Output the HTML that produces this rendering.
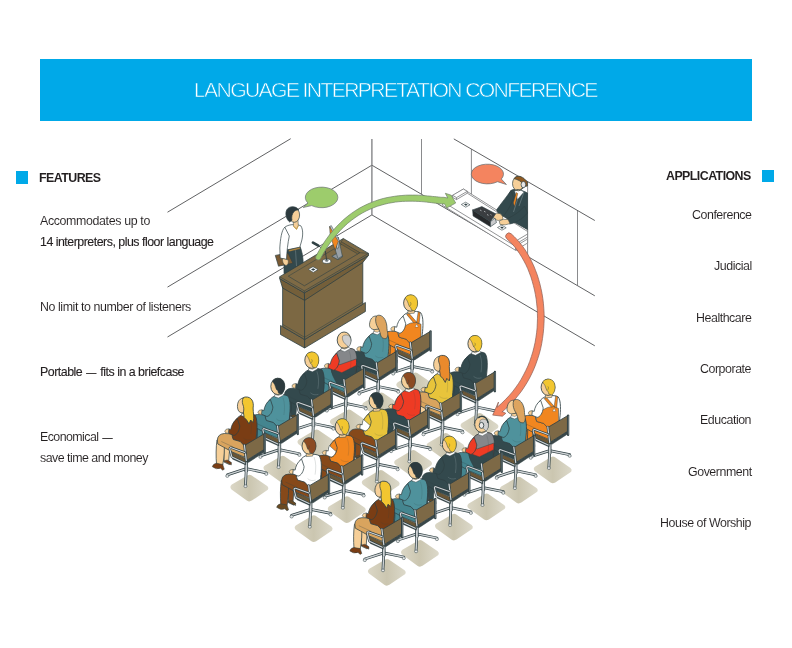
<!DOCTYPE html>
<html><head><meta charset="utf-8"><title>Language Interpretation Conference</title>
<style>
html,body{margin:0;padding:0;background:#fff;}
body{width:792px;height:648px;position:relative;overflow:hidden;font-family:"Liberation Sans",sans-serif;color:#231f20;}
.hdr{position:absolute;left:39.5px;top:58.9px;width:712px;height:61.9px;background:#00a9e8;}
.title{will-change:transform;position:absolute;left:194px;top:74.9px;font-size:21.1px;line-height:30px;color:#fff;white-space:nowrap;letter-spacing:-1.61px;-webkit-text-stroke:0.55px #00a9e8;}
.sq{position:absolute;width:12px;height:12px;background:#00a9e8;}
.h{will-change:transform;position:absolute;font-weight:bold;font-size:12.4px;line-height:14px;letter-spacing:-0.55px;white-space:nowrap;}
.t{will-change:transform;-webkit-text-stroke:0.05px #fff;position:absolute;font-size:12.4px;line-height:14px;letter-spacing:-0.45px;white-space:nowrap;}
.t.b{-webkit-text-stroke:0.12px #231f20;}
.t .d{font-size:10px;margin:0 1.1px;letter-spacing:0;-webkit-text-stroke:0.25px #231f20}
.r{right:40.5px;text-align:right;}
.l{left:39.5px;}
svg{position:absolute;left:0;top:0;}
</style></head><body>
<div class="hdr"></div>
<div class="title">LANGUAGE INTERPRETATION CONFERENCE</div>
<div class="sq" style="left:16px;top:171.4px;width:12.2px;height:12.4px"></div>
<div class="sq" style="left:761.8px;top:170.1px;width:12.2px;height:12.3px"></div>
<div class="h l" style="top:170.7px;left:38.8px">FEATURES</div>
<div class="h r" style="top:169.1px;right:41.2px">APPLICATIONS</div>
<div class="t l" style="top:213.7px;letter-spacing:-0.36px">Accommodates up to</div>
<div class="t l b" style="top:235.3px;letter-spacing:-0.5px">14 interpreters, plus floor language</div>
<div class="t l" style="top:300.1px;letter-spacing:-0.42px">No limit to number of listeners</div>
<div class="t l b" style="top:364.9px;letter-spacing:-0.49px">Portable <span class="d">—</span> fits in a briefcase</div>
<div class="t l" style="top:429.7px;letter-spacing:-0.56px">Economical <span class="d">—</span></div>
<div class="t l" style="top:451.3px;letter-spacing:-0.52px">save time and money</div>
<div class="t r" style="top:208.1px">Conference</div>
<div class="t r" style="top:259.4px">Judicial</div>
<div class="t r" style="top:310.7px">Healthcare</div>
<div class="t r" style="top:362px">Corporate</div>
<div class="t r" style="top:413.3px">Education</div>
<div class="t r" style="top:464.6px">Government</div>
<div class="t r" style="top:515.9px">House of Worship</div>
<svg id="art" width="792" height="648" viewBox="0 0 792 648">
<defs><linearGradient id="sh" x1="0" y1="0" x2="1" y2="0"><stop offset="0" stop-color="#dbd7c6"/><stop offset=".5" stop-color="#cbc6b0"/><stop offset="1" stop-color="#dcd9ca"/></linearGradient></defs>
<g fill="none" stroke="#4f5052" stroke-width=".9">
<path d="M167.5,212.2 L290.7,138.7"/>
<path d="M167.5,287.1 L371.9,165.2"/>
<path d="M167.5,337 L371.9,214.9"/>
<path d="M453.8,138.9 L594.8,220.5"/>
<path d="M371.9,165.2 L594.8,295.8"/>
<path d="M371.9,214.9 L594.8,345.8"/>
</g>
<g fill="none" stroke="#58595b" stroke-width=".7">
<path d="M371.9,139 V214.9" stroke="#7b7c7f" stroke-width="1.3"/>
<path d="M421.5,139 V194.2"/>
<path d="M471.4,149 V195"/>
<path d="M527.6,182 V256"/>
<path d="M577.5,210.4 V285.3"/>
</g>
<g stroke="#2f4043" stroke-width=".7" stroke-linejoin="round">
<path d="M286.8,249 L300,246.5 C302,251 303,257 303.3,264 L303.3,285.1 L284,273.6 L284,262Z" fill="#33494d"/>
<path d="M295.5,250 L296.5,266" fill="none" stroke="#8fa0a3" stroke-width=".4"/>
<path d="M284.5,227.5 C288,224.3 296,223.6 300.8,225.8 C303.3,229.5 303,236 301.6,241 L299.8,247.2 L287.3,249.8 L284.5,246 Z" fill="#fff"/>
<path d="M288.5,250 L300,247.3 L300.2,249 L288.8,251.8Z" fill="#b98a3e" stroke-width=".4"/>
<path d="M275.3,255.4 L288,253 L292.9,263.2 L278.5,266.2Z" fill="#7a5a33"/>
<path d="M284.8,227.2 C281.5,230 280.3,240 279.8,248 L280.2,258 L286.5,259.5 C286.8,252 287.8,243 289.3,236Z" fill="#fff"/>
<path d="M282.5,258.5 C282,261.5 283.5,265 286,265.5 C288.3,265 288.8,262 288,259.8Z" fill="#f6cf98" stroke-width=".5"/>
<path d="M293.5,220 L293.3,226 L296.5,229 L298.3,225.5 L298,220Z" fill="#f6cf98" stroke-width=".5"/>
<path d="M293.3,226 L296.5,229.5 L298.4,225.6" fill="none" stroke="#d9a53c" stroke-width=".9"/>
<ellipse cx="294.3" cy="215" rx="5.3" ry="7.3" fill="#f6cf98"/>
<path d="M298.8,210 C296.5,206 289.5,205.3 286.8,209.8 C284.8,213.5 286.3,219.5 289.6,222 L292,220.3 C291.2,217.5 292,213.5 294.3,211.3 C295.8,210.2 297.5,209.8 298.8,210Z" fill="#2c3a3e"/>
</g>
<g stroke="#2f4043" stroke-width=".8" stroke-linejoin="round">
<path d="M280.5,325.5 L304.6,339.5 L304.6,348 L280.5,334.5Z" fill="#7c6843"/>
<path d="M304.6,339.5 L365.4,302.5 L365.4,311.5 L304.6,348Z" fill="#7e6a45"/>
<path d="M282.6,286 L304.6,299 L304.6,339.5 L282.6,326.5Z" fill="#7c6843"/>
<path d="M304.6,299 L362.8,259 L362.8,304.3 L304.6,339.5Z" fill="#7e6a45"/>
<path d="M282.6,324.3 L304.6,337.3 L362.8,302" fill="none" stroke-width=".5"/>
<path d="M279.7,278.6 L304.4,292.8 L304.6,300.4 L282.6,288Z" fill="#745f3a"/>
<path d="M304.4,292.8 L368.5,255.4 L362.8,262.5 L304.6,300.4Z" fill="#745f3a"/>
<path d="M279.7,276.7 L343.3,238.5 L368.5,253.4 L368.5,255.4 L304.4,292.8 L279.7,278.6Z" fill="#7e6a45"/>
<path d="M279.7,276.7 L304.4,290.9 L368.5,253.4" fill="none" stroke-width=".6"/>
<path d="M304.4,290.9 L304.4,292.8" fill="none" stroke-width=".5"/>
</g>
<g stroke="#2f4043" stroke-width=".6" stroke-linejoin="round" fill="none">
<path d="M288.3,276.2 L304.4,285.8 L359.7,252.8"/>
<path d="M288.3,276.2 L343.3,243.4 L359.7,252.8" stroke-width=".5"/>
<path d="M341.4,241.7 L359.7,252.6 L357.5,253.9 L340.4,243.8Z" fill="#745f3a" stroke-width=".5"/>
<path d="M343.3,238.5 L341.4,241.7 M368.5,253.4 L359.7,252.7" stroke-width=".5"/>
</g>
<ellipse cx="326.7" cy="261.2" rx="4.2" ry="2.2" fill="#fff" stroke="#2f4043" stroke-width=".7"/>
<ellipse cx="326.7" cy="260.6" rx="1.6" ry=".9" fill="#9aa0a4" stroke="#2f4043" stroke-width=".4"/>
<path d="M326.7,260.5 L325.3,251" stroke="#2f4043" stroke-width=".9"/>
<path d="M313,242.6 L318.3,245.6" stroke="#2f4043" stroke-width="2.8" stroke-linecap="round"/>
<path d="M318.3,245.6 L325.3,251" stroke="#2f4043" stroke-width="1"/>
<path d="M331.8,256.3 L338.5,252.5 L343,256.3 L338,259.8Z" fill="#8e959a" stroke="#2f4043" stroke-width=".6" stroke-linejoin="round"/>
<path d="M335.3,250 L338.3,237 L342.3,256 L338,258.6Z" fill="#9aa1a6" stroke="#2f4043" stroke-width=".5" stroke-linejoin="round"/>
<path d="M329.6,226.5 L331.3,225.6 L339.2,240.3 L338.6,248 L337.4,249Z" fill="#c3c8cb" stroke="#2f4043" stroke-width=".5" stroke-linejoin="round"/>
<path d="M329.6,226.5 L338.3,241.3 L335.2,250.3 L330.2,236Z" fill="#f1861f" stroke="#2f4043" stroke-width=".5" stroke-linejoin="round"/>
<path d="M308.3,269.3 L313,266.7 L318,269.6 L313.3,272.4Z" fill="#fff" stroke="#2f4043" stroke-width=".6"/>
<path d="M311,269.4 L313.2,268.2 L315.4,269.5 L313.2,270.8Z" fill="#2f4043"/>
<g stroke="#77787b" stroke-width=".8" stroke-linejoin="round" fill="#fff">
<path d="M442.5,201.5 L442.5,205.3 L515.5,250.3 L527.6,243 L527.6,229.5 L463.4,189.1Z"/>
<path d="M442.5,201.5 L515.5,246.3 L527.6,239"/>
<path d="M515.5,246.3 L515.5,250.3"/>
<path d="M452.6,195.3 L463.4,189 L467.3,191.3 L467.3,193.2 L456.5,199.6 L452.6,197.3Z"/>
<path d="M456.5,197.6 L467.3,191.3 M456.5,197.6 L456.5,199.6 M452.6,195.3 L456.5,197.6"/>
<path d="M467.3,193.2 L527.6,231.5"/>
<path d="M517.5,240 L527.6,234 M517.5,240 L517.5,243 L527.6,237"/>
</g>
<path d="M497.5,181.7 A16.1,9.85 0 1 1 501.3,179 L506.4,184.5Z" fill="#f4845f" stroke="#5f6b70" stroke-width=".7" stroke-linejoin="round"/>
<g stroke="#2f4043" stroke-width=".7" stroke-linejoin="round">
<path d="M511,190.5 C514,188.5 520,189 527.5,193 L527.5,229.5 L512,221 C505,218 500,214 497.5,211 C503,204 508,196 511,190.5Z" fill="#33494d"/>
<path d="M514.5,191 L517.5,199.5 L524,192 L519.5,189.5Z" fill="#fff" stroke-width=".4"/>
<path d="M516.3,192.5 L517.8,193.6 L514.6,206.5 L513.3,203Z" fill="#f1861f" stroke-width=".4"/>
<path d="M517.5,199.5 L513.5,212 M524,192 L519,206" fill="none" stroke="#9fb0b3" stroke-width=".4"/>
<path d="M511,190.5 C506,197.5 500,205 496.5,210 L499,214 L503,216.5 C507,212 511,205 513.5,198Z" fill="#33494d"/>
<path d="M524.5,206 C520,212 513,216 507.5,218.5 L509.5,224 C516,223 523,218.5 527.5,213Z" fill="#33494d"/>
<path d="M493,215 Q496,212.3 500,213.6 Q503.5,216 503,219.5 Q498,221.5 494,219.3Z" fill="#f6cf98" stroke-width=".5"/>
<path d="M499.3,221 Q503,218.3 508,219.6 L510,223.6 Q505,225.8 500,224.4Z" fill="#f6cf98" stroke-width=".5"/>
<ellipse cx="518.3" cy="183.6" rx="5.8" ry="7.2" fill="#f6cf98"/>
<path d="M514,178.6 C516,175.6 520,175.4 524,178.4 L527.4,182 L527.4,186 C525,187 522.8,186 522.3,183.6 C521,181 518,179.8 514,178.6Z" fill="#8f5a22"/>
<ellipse cx="523.4" cy="184.6" rx="2.3" ry="3.2" fill="#e6e6e6"/>
<path d="M523.5,187.5 Q520,191 516.3,189.5" fill="none" stroke-width=".8"/>
</g>
<g stroke="#2f4043" stroke-width=".6" stroke-linejoin="round">
<path d="M472.6,209.9 L481.9,206.6 L495.6,213.8 L490.5,221.7Z" fill="#3a3d40"/>
<path d="M472.6,209.9 L490.5,221.7 L490.5,226.7 L473.1,216Z" fill="#26282a"/>
<path d="M490.5,221.7 L495,218 L496.5,222.5 L490.5,226.7Z" fill="#c9cbcd"/>
</g>
<path d="M480,210 l1.5,.8 M484,211.2 l1.5,.8 M487,214.5 l1.5,.8 M490.5,214.5 l1,.6" stroke="#cfd3d6" stroke-width=".7" fill="none"/>
<path d="M461.3,204.5 L465.6,202.2 L470,204.8 L465.7,207.2Z M497.5,227.5 L501.8,225.2 L506.2,227.8 L501.9,230.2Z" fill="#fff" stroke="#2f4043" stroke-width=".6"/>
<path d="M464,204.6 L465.8,203.6 L467.6,204.7 L465.8,205.7Z M500.2,227.6 L502,226.6 L503.8,227.7 L502,228.7Z" fill="#2f4043"/>
<path d="M307.9,203 A16.3,10.3 0 1 1 311.7,205.6 L303.2,207.5Z" fill="#9dcc6c" stroke="#6f7477" stroke-width=".7" stroke-linejoin="round"/>
<g transform="translate(412.2,368.7)">
<path d="M-14.5,13.6 L1.5,4.2 Q3.2,3.2 5,4.2 L20.8,15 Q22.8,16.6 21.5,18.8 L5.6,29.6 Q3,31.2 0.8,29.7 L-14.8,18.4 Q-17.2,15.8 -14.5,13.6Z" fill="url(#sh)"/>
<path d="M0,-2.3 L-19,3.8" stroke="#2f4043" stroke-width="2.8" stroke-linecap="round"/>
<path d="M0,-2.3 L20,1.8" stroke="#2f4043" stroke-width="2.8" stroke-linecap="round"/>
<path d="M0,-2.3 L-0.8,14" stroke="#2f4043" stroke-width="2.8" stroke-linecap="round"/>
<path d="M0,-2.3 L-19,3.8" stroke="#cfd3d6" stroke-width="1.4" stroke-linecap="round"/>
<path d="M0,-2.3 L20,1.8" stroke="#cfd3d6" stroke-width="1.4" stroke-linecap="round"/>
<path d="M0,-2.3 L-0.8,14" stroke="#cfd3d6" stroke-width="1.4" stroke-linecap="round"/>
<ellipse cx="-19" cy="5.0" rx="1.6" ry="1.4" fill="#e4e6e7" stroke="#2f4043" stroke-width=".5"/>
<ellipse cx="20" cy="3.0" rx="1.6" ry="1.4" fill="#e4e6e7" stroke="#2f4043" stroke-width=".5"/>
<ellipse cx="-0.8" cy="15.2" rx="1.6" ry="1.4" fill="#e4e6e7" stroke="#2f4043" stroke-width=".5"/>
<path d="M0,-12 L0,1" stroke="#2f4043" stroke-width="3.5"/>
<path d="M0,-12 L0,1" stroke="#cfd3d6" stroke-width="1.9"/>
<path d="M-22.5,-25 L-22.3,-9 L-17,-6.5 L-15,-8 L-17.6,-10 L-16.5,-24Z" fill="#f1861f" stroke="#2f4043" stroke-width=".75"/>
<path d="M-23,-10 L-15,-6 L-15,-8.5 L-19,-11Z" fill="#6a4a22" stroke="#2f4043" stroke-width=".5"/>
<path d="M-29.3,-31 C-30.4,-24 -30.4,-14 -29.8,-7 L-23.6,-6 C-22,-14 -21.6,-22 -22.2,-30Z" fill="#f1861f" stroke="#2f4043" stroke-width=".75"/>
<path d="M-34,-4.3 Q-33.3,-7.2 -30,-7.8 L-23.6,-6.6 L-22,-1.8 L-23.6,-0.8 L-25.8,-2.8 Q-30,-1 -34,-4.3Z" fill="#6a4a22" stroke="#2f4043" stroke-width=".5"/>
<path d="M-15.3,-19.5 L-0.5,-12.8 L-0.5,-8 L-14.2,-14Z" fill="#6a5636" stroke="#2f4043" stroke-width=".5"/>
<path d="M-14.2,-14 L-0.5,-8 L-0.5,-6 L-13.6,-11.8Z" fill="#3a4749" stroke="#2f4043" stroke-width=".4"/>
<path d="M-10,-37 L-22,-37.5 Q-28.5,-37 -29,-31 L-28.5,-27 L-23,-24 L-14,-19 L-2,-14 L4,-24Z" fill="#f1861f" stroke="#2f4043" stroke-width=".75"/>
<path d="M-25,-29.5 L-13,-24" stroke="#2f4043" stroke-width=".4" fill="none" opacity=".7"/>
<path d="M-9,-53 C-5,-57.5 4,-58.5 8.5,-56 C11.5,-52 11,-42 10,-34 L10,-20 L1,-22 L-6,-29.5 L-13,-31.5 C-16,-38 -14,-47 -9,-53Z" fill="#ffffff" stroke="#2f4043" stroke-width=".85"/>
<path d="M-8,-42.5 L-2,-45.5 L3.5,-46.5 L8.8,-44.5 L8.8,-34 L9,-20 L1,-22 L-6,-29.5 L-13,-31.5 L-13.6,-35 L-9.5,-38Z" fill="#f1861f" stroke="#2f4043" stroke-width=".5"/>
<path d="M-5.6,-54.3 L-3.4,-55.6 L4.6,-46.4 L1.6,-45.8Z M6,-57 L8,-56 L7,-45.2 L4.4,-46Z" fill="#f1861f" stroke="#2f4043" stroke-width=".45"/>
<path d="M4.4,-44.6 L6,-41.6 L3,-41.6Z" fill="#fff" stroke="#2f4043" stroke-width=".3"/>
<path d="M-9,-52.5 C-13,-50 -15,-45 -15.5,-41.5 L-17.5,-42 L-18,-37.8 L-12.5,-35.5 C-9.5,-36 -7,-40 -6.5,-45Z" fill="#ffffff" stroke="#2f4043" stroke-width=".75"/>
<path d="M-17.5,-42.3 Q-21,-42.3 -21.5,-39.8 Q-21,-37.3 -18,-37.6Z" fill="#f6cf98" stroke="#2f4043" stroke-width=".5"/>
<path d="M-4,-60 L-4.5,-55 L2,-55.5 L3,-60Z" fill="#f6cf98" stroke="#2f4043" stroke-width=".5"/>
<ellipse cx="-1.7" cy="-65.6" rx="6.9" ry="8.1" fill="#f6cf98" stroke="#2f4043" stroke-width=".85"/>
<path d="M-6.8,-71.3 C-3.8,-75.3 4.2,-74.8 5.2,-68 C5.9,-64 4.8,-59.8 2,-57.8 L-1,-59 C-1.3,-61 -1.8,-62 -2.8,-62.3 C-3.8,-64 -4,-66 -4.8,-67.5 C-5.6,-69 -7,-70 -6.8,-71.3Z" fill="#f2c630" stroke="#2f4043" stroke-width=".5"/>
<path d="M-2.6,-62.5 C-1.2,-63.5 -0.8,-65.5 -1.8,-66.5" fill="none" stroke="#2f4043" stroke-width=".4"/>
<path d="M0.3,-10.5 L18,-21.8 L18,-19 L2.5,-8.8 L0.3,-8.8Z" fill="#3a4749" stroke="#2f4043" stroke-width=".5"/>
<path d="M-1.5,-25.7 L17.9,-37.2 L17.9,-21.6 L0.2,-10.5Z" fill="#7d6946" stroke="#2f4043" stroke-width=".85"/>
<path d="M-1.9,-26 L0,-10.5" stroke="#2f4043" stroke-width="2.5" stroke-linecap="round"/>
<path d="M-1.9,-26 L0,-10.5" stroke="#cfd3d6" stroke-width="1.2" stroke-linecap="round"/>
<path d="M18.4,-37.3 L18.4,-18" stroke="#2f4043" stroke-width="2.3" stroke-linecap="round"/>
<path d="M18.7,-37 L18.7,-18.5" stroke="#8e979a" stroke-width=".6" stroke-linecap="round"/>
<path d="M-1.6,-18.5 L-15,-23.3 Q-16.9,-23.6 -16.4,-21.5 L-14.4,-14 L-1.5,-8" fill="none" stroke="#2f4043" stroke-width="2.4" stroke-linecap="round" stroke-linejoin="round"/>
<path d="M-1.6,-18.5 L-15,-23.3 Q-16.9,-23.6 -16.4,-21.5 L-14.4,-14 L-1.5,-8" fill="none" stroke="#cfd3d6" stroke-width="1.1" stroke-linecap="round" stroke-linejoin="round"/>
</g>
<g transform="translate(378.2,388.8)">
<path d="M-14.5,13.6 L1.5,4.2 Q3.2,3.2 5,4.2 L20.8,15 Q22.8,16.6 21.5,18.8 L5.6,29.6 Q3,31.2 0.8,29.7 L-14.8,18.4 Q-17.2,15.8 -14.5,13.6Z" fill="url(#sh)"/>
<path d="M0,-2.3 L-19,3.8" stroke="#2f4043" stroke-width="2.8" stroke-linecap="round"/>
<path d="M0,-2.3 L20,1.8" stroke="#2f4043" stroke-width="2.8" stroke-linecap="round"/>
<path d="M0,-2.3 L-0.8,14" stroke="#2f4043" stroke-width="2.8" stroke-linecap="round"/>
<path d="M0,-2.3 L-19,3.8" stroke="#cfd3d6" stroke-width="1.4" stroke-linecap="round"/>
<path d="M0,-2.3 L20,1.8" stroke="#cfd3d6" stroke-width="1.4" stroke-linecap="round"/>
<path d="M0,-2.3 L-0.8,14" stroke="#cfd3d6" stroke-width="1.4" stroke-linecap="round"/>
<ellipse cx="-19" cy="5.0" rx="1.6" ry="1.4" fill="#e4e6e7" stroke="#2f4043" stroke-width=".5"/>
<ellipse cx="20" cy="3.0" rx="1.6" ry="1.4" fill="#e4e6e7" stroke="#2f4043" stroke-width=".5"/>
<ellipse cx="-0.8" cy="15.2" rx="1.6" ry="1.4" fill="#e4e6e7" stroke="#2f4043" stroke-width=".5"/>
<path d="M0,-12 L0,1" stroke="#2f4043" stroke-width="3.5"/>
<path d="M0,-12 L0,1" stroke="#cfd3d6" stroke-width="1.9"/>
<path d="M-22.5,-25 L-22.3,-9 L-17,-6.5 L-15,-8 L-17.6,-10 L-16.5,-24Z" fill="#33494d" stroke="#2f4043" stroke-width=".75"/>
<path d="M-23,-10 L-15,-6 L-15,-8.5 L-19,-11Z" fill="#6a4a22" stroke="#2f4043" stroke-width=".5"/>
<path d="M-29.3,-31 C-30.4,-24 -30.4,-14 -29.8,-7 L-23.6,-6 C-22,-14 -21.6,-22 -22.2,-30Z" fill="#33494d" stroke="#2f4043" stroke-width=".75"/>
<path d="M-34,-4.3 Q-33.3,-7.2 -30,-7.8 L-23.6,-6.6 L-22,-1.8 L-23.6,-0.8 L-25.8,-2.8 Q-30,-1 -34,-4.3Z" fill="#6a4a22" stroke="#2f4043" stroke-width=".5"/>
<path d="M-15.3,-19.5 L-0.5,-12.8 L-0.5,-8 L-14.2,-14Z" fill="#6a5636" stroke="#2f4043" stroke-width=".5"/>
<path d="M-14.2,-14 L-0.5,-8 L-0.5,-6 L-13.6,-11.8Z" fill="#3a4749" stroke="#2f4043" stroke-width=".4"/>
<path d="M-10,-37 L-22,-37.5 Q-28.5,-37 -29,-31 L-28.5,-27 L-23,-24 L-14,-19 L-2,-14 L4,-24Z" fill="#33494d" stroke="#2f4043" stroke-width=".75"/>
<path d="M-25,-29.5 L-13,-24" stroke="#2f4043" stroke-width=".4" fill="none" opacity=".7"/>
<path d="M-9,-53 C-5,-57.5 4,-58.5 8.5,-56 C11.5,-52 11,-42 10,-34 L10,-20 L1,-22 L-6,-29.5 L-13,-31.5 C-16,-38 -14,-47 -9,-53Z" fill="#4f929c" stroke="#2f4043" stroke-width=".85"/>
<path d="M3.5,-54.5 C5.5,-49 5.5,-43 4.5,-37 M-3,-33 C-1,-31 2,-30.5 5,-31.5" fill="none" stroke="#2f4043" stroke-width=".45" opacity=".35"/>
<path d="M-9,-52.5 C-13,-50 -15,-45 -15.5,-41.5 L-17.5,-42 L-18,-37.8 L-12.5,-35.5 C-9.5,-36 -7,-40 -6.5,-45Z" fill="#4f929c" stroke="#2f4043" stroke-width=".75"/>
<path d="M-17.5,-42.3 Q-21,-42.3 -21.5,-39.8 Q-21,-37.3 -18,-37.6Z" fill="#f6cf98" stroke="#2f4043" stroke-width=".5"/>
<path d="M-4,-60 L-4.5,-55 L2,-55.5 L3,-60Z" fill="#f6cf98" stroke="#2f4043" stroke-width=".5"/>
<path d="M-5,-55.5 L-1,-54 L4.5,-57 L3,-58.5 L-1,-56.5 L-4.5,-57.5Z" fill="#fff" stroke="#2f4043" stroke-width=".4"/>
<path d="M-1.8,-72.8 C-5.5,-73 -8.2,-70 -8.7,-64.5 C-8.8,-62 -7.8,-59.8 -4.1,-59.1 L0.5,-59.8 L-1,-70Z" fill="#f6cf98" stroke="#2f4043" stroke-width=".7"/>
<path d="M-1.8,-72.8 C1,-74.8 5.5,-73 7.5,-67.6 C9,-64 8.6,-61 9,-58.3 C9.6,-56 9.8,-54.5 9.4,-52.9 C9,-51 8.3,-50.4 7.5,-50.2 C6,-50 4.6,-50.6 3.6,-51.4 C2.6,-52.6 2.4,-54 2.1,-55.2 C1.6,-57 1,-58.5 0.5,-59.8 C-1,-62 -2.3,-65 -2.5,-67.6 C-2.7,-69.5 -2.5,-71.5 -1.8,-72.8Z" fill="#dda45f" stroke="#2f4043" stroke-width=".7"/>
<path d="M0.3,-10.5 L18,-21.8 L18,-19 L2.5,-8.8 L0.3,-8.8Z" fill="#3a4749" stroke="#2f4043" stroke-width=".5"/>
<path d="M-1.5,-25.7 L17.9,-37.2 L17.9,-21.6 L0.2,-10.5Z" fill="#7d6946" stroke="#2f4043" stroke-width=".85"/>
<path d="M-1.9,-26 L0,-10.5" stroke="#2f4043" stroke-width="2.5" stroke-linecap="round"/>
<path d="M-1.9,-26 L0,-10.5" stroke="#cfd3d6" stroke-width="1.2" stroke-linecap="round"/>
<path d="M18.4,-37.3 L18.4,-18" stroke="#2f4043" stroke-width="2.3" stroke-linecap="round"/>
<path d="M18.7,-37 L18.7,-18.5" stroke="#8e979a" stroke-width=".6" stroke-linecap="round"/>
<path d="M-1.6,-18.5 L-15,-23.3 Q-16.9,-23.6 -16.4,-21.5 L-14.4,-14 L-1.5,-8" fill="none" stroke="#2f4043" stroke-width="2.4" stroke-linecap="round" stroke-linejoin="round"/>
<path d="M-1.6,-18.5 L-15,-23.3 Q-16.9,-23.6 -16.4,-21.5 L-14.4,-14 L-1.5,-8" fill="none" stroke="#cfd3d6" stroke-width="1.1" stroke-linecap="round" stroke-linejoin="round"/>
</g>
<g transform="translate(345.8,405.7)">
<path d="M-14.5,13.6 L1.5,4.2 Q3.2,3.2 5,4.2 L20.8,15 Q22.8,16.6 21.5,18.8 L5.6,29.6 Q3,31.2 0.8,29.7 L-14.8,18.4 Q-17.2,15.8 -14.5,13.6Z" fill="url(#sh)"/>
<path d="M0,-2.3 L-19,3.8" stroke="#2f4043" stroke-width="2.8" stroke-linecap="round"/>
<path d="M0,-2.3 L20,1.8" stroke="#2f4043" stroke-width="2.8" stroke-linecap="round"/>
<path d="M0,-2.3 L-0.8,14" stroke="#2f4043" stroke-width="2.8" stroke-linecap="round"/>
<path d="M0,-2.3 L-19,3.8" stroke="#cfd3d6" stroke-width="1.4" stroke-linecap="round"/>
<path d="M0,-2.3 L20,1.8" stroke="#cfd3d6" stroke-width="1.4" stroke-linecap="round"/>
<path d="M0,-2.3 L-0.8,14" stroke="#cfd3d6" stroke-width="1.4" stroke-linecap="round"/>
<ellipse cx="-19" cy="5.0" rx="1.6" ry="1.4" fill="#e4e6e7" stroke="#2f4043" stroke-width=".5"/>
<ellipse cx="20" cy="3.0" rx="1.6" ry="1.4" fill="#e4e6e7" stroke="#2f4043" stroke-width=".5"/>
<ellipse cx="-0.8" cy="15.2" rx="1.6" ry="1.4" fill="#e4e6e7" stroke="#2f4043" stroke-width=".5"/>
<path d="M0,-12 L0,1" stroke="#2f4043" stroke-width="3.5"/>
<path d="M0,-12 L0,1" stroke="#cfd3d6" stroke-width="1.9"/>
<path d="M-22.5,-25 L-22.3,-9 L-17,-6.5 L-15,-8 L-17.6,-10 L-16.5,-24Z" fill="#44858f" stroke="#2f4043" stroke-width=".75"/>
<path d="M-23,-10 L-15,-6 L-15,-8.5 L-19,-11Z" fill="#6a4a22" stroke="#2f4043" stroke-width=".5"/>
<path d="M-29.3,-31 C-30.4,-24 -30.4,-14 -29.8,-7 L-23.6,-6 C-22,-14 -21.6,-22 -22.2,-30Z" fill="#44858f" stroke="#2f4043" stroke-width=".75"/>
<path d="M-34,-4.3 Q-33.3,-7.2 -30,-7.8 L-23.6,-6.6 L-22,-1.8 L-23.6,-0.8 L-25.8,-2.8 Q-30,-1 -34,-4.3Z" fill="#6a4a22" stroke="#2f4043" stroke-width=".5"/>
<path d="M-15.3,-19.5 L-0.5,-12.8 L-0.5,-8 L-14.2,-14Z" fill="#6a5636" stroke="#2f4043" stroke-width=".5"/>
<path d="M-14.2,-14 L-0.5,-8 L-0.5,-6 L-13.6,-11.8Z" fill="#3a4749" stroke="#2f4043" stroke-width=".4"/>
<path d="M-10,-37 L-22,-37.5 Q-28.5,-37 -29,-31 L-28.5,-27 L-23,-24 L-14,-19 L-2,-14 L4,-24Z" fill="#44858f" stroke="#2f4043" stroke-width=".75"/>
<path d="M-25,-29.5 L-13,-24" stroke="#2f4043" stroke-width=".4" fill="none" opacity=".7"/>
<path d="M-9,-53 C-5,-57.5 4,-58.5 8.5,-56 C11.5,-52 11,-42 10,-34 L10,-20 L1,-22 L-6,-29.5 L-13,-31.5 C-16,-38 -14,-47 -9,-53Z" fill="#ee3b24" stroke="#2f4043" stroke-width=".85"/>
<path d="M10,-40 L10,-20 L-9,-22 L-13,-30 C-14,-33 -14.6,-35 -14.6,-37 L-4,-33Z" fill="#33494d" stroke="#2f4043" stroke-width=".5"/>
<path d="M-9,-53 C-5,-57.5 4,-58.5 8.5,-56 C10.3,-53.5 10.9,-50 11,-47 L-6,-41 L-13.5,-44 C-12.8,-47.5 -11,-50.8 -9,-53Z" fill="#85878a" stroke="#2f4043" stroke-width=".5"/>
<path d="M3.5,-54.5 C5.5,-49 5.5,-43 4.5,-37 M-3,-33 C-1,-31 2,-30.5 5,-31.5" fill="none" stroke="#2f4043" stroke-width=".45" opacity=".35"/>
<path d="M-9,-52.5 C-13,-50 -15,-45 -15.5,-41.5 L-17.5,-42 L-18,-37.8 L-12.5,-35.5 C-9.5,-36 -7,-40 -6.5,-45Z" fill="#ee3b24" stroke="#2f4043" stroke-width=".75"/>
<path d="M-17.5,-42.3 Q-21,-42.3 -21.5,-39.8 Q-21,-37.3 -18,-37.6Z" fill="#f6cf98" stroke="#2f4043" stroke-width=".5"/>
<path d="M-4,-60 L-4.5,-55 L2,-55.5 L3,-60Z" fill="#f6cf98" stroke="#2f4043" stroke-width=".5"/>
<path d="M-5,-55.5 L-1,-54 L4.5,-57 L3,-58.5 L-1,-56.5 L-4.5,-57.5Z" fill="#fff" stroke="#2f4043" stroke-width=".4"/>
<ellipse cx="-1.7" cy="-65.6" rx="6.9" ry="8.1" fill="#f6cf98" stroke="#2f4043" stroke-width=".85"/>
<path d="M-3.2,-69.5 C0,-72 4,-70.5 4.9,-67 C5.6,-64 4.8,-60.5 2.6,-58.7 C1.3,-60.5 0,-61.5 -1.2,-62.3 C-2.7,-64 -4,-67 -3.2,-69.5Z" fill="#cfcfcf" stroke="#2f4043" stroke-width=".4"/>
<path d="M0.3,-10.5 L18,-21.8 L18,-19 L2.5,-8.8 L0.3,-8.8Z" fill="#3a4749" stroke="#2f4043" stroke-width=".5"/>
<path d="M-1.5,-25.7 L17.9,-37.2 L17.9,-21.6 L0.2,-10.5Z" fill="#7d6946" stroke="#2f4043" stroke-width=".85"/>
<path d="M-1.9,-26 L0,-10.5" stroke="#2f4043" stroke-width="2.5" stroke-linecap="round"/>
<path d="M-1.9,-26 L0,-10.5" stroke="#cfd3d6" stroke-width="1.2" stroke-linecap="round"/>
<path d="M18.4,-37.3 L18.4,-18" stroke="#2f4043" stroke-width="2.3" stroke-linecap="round"/>
<path d="M18.7,-37 L18.7,-18.5" stroke="#8e979a" stroke-width=".6" stroke-linecap="round"/>
<path d="M-1.6,-18.5 L-15,-23.3 Q-16.9,-23.6 -16.4,-21.5 L-14.4,-14 L-1.5,-8" fill="none" stroke="#2f4043" stroke-width="2.4" stroke-linecap="round" stroke-linejoin="round"/>
<path d="M-1.6,-18.5 L-15,-23.3 Q-16.9,-23.6 -16.4,-21.5 L-14.4,-14 L-1.5,-8" fill="none" stroke="#cfd3d6" stroke-width="1.1" stroke-linecap="round" stroke-linejoin="round"/>
</g>
<g transform="translate(313.4,425.8)">
<path d="M-14.5,13.6 L1.5,4.2 Q3.2,3.2 5,4.2 L20.8,15 Q22.8,16.6 21.5,18.8 L5.6,29.6 Q3,31.2 0.8,29.7 L-14.8,18.4 Q-17.2,15.8 -14.5,13.6Z" fill="url(#sh)"/>
<path d="M0,-2.3 L-19,3.8" stroke="#2f4043" stroke-width="2.8" stroke-linecap="round"/>
<path d="M0,-2.3 L20,1.8" stroke="#2f4043" stroke-width="2.8" stroke-linecap="round"/>
<path d="M0,-2.3 L-0.8,14" stroke="#2f4043" stroke-width="2.8" stroke-linecap="round"/>
<path d="M0,-2.3 L-19,3.8" stroke="#cfd3d6" stroke-width="1.4" stroke-linecap="round"/>
<path d="M0,-2.3 L20,1.8" stroke="#cfd3d6" stroke-width="1.4" stroke-linecap="round"/>
<path d="M0,-2.3 L-0.8,14" stroke="#cfd3d6" stroke-width="1.4" stroke-linecap="round"/>
<ellipse cx="-19" cy="5.0" rx="1.6" ry="1.4" fill="#e4e6e7" stroke="#2f4043" stroke-width=".5"/>
<ellipse cx="20" cy="3.0" rx="1.6" ry="1.4" fill="#e4e6e7" stroke="#2f4043" stroke-width=".5"/>
<ellipse cx="-0.8" cy="15.2" rx="1.6" ry="1.4" fill="#e4e6e7" stroke="#2f4043" stroke-width=".5"/>
<path d="M0,-12 L0,1" stroke="#2f4043" stroke-width="3.5"/>
<path d="M0,-12 L0,1" stroke="#cfd3d6" stroke-width="1.9"/>
<path d="M-22.5,-25 L-22.3,-9 L-17,-6.5 L-15,-8 L-17.6,-10 L-16.5,-24Z" fill="#33494d" stroke="#2f4043" stroke-width=".75"/>
<path d="M-23,-10 L-15,-6 L-15,-8.5 L-19,-11Z" fill="#6a4a22" stroke="#2f4043" stroke-width=".5"/>
<path d="M-29.3,-31 C-30.4,-24 -30.4,-14 -29.8,-7 L-23.6,-6 C-22,-14 -21.6,-22 -22.2,-30Z" fill="#33494d" stroke="#2f4043" stroke-width=".75"/>
<path d="M-34,-4.3 Q-33.3,-7.2 -30,-7.8 L-23.6,-6.6 L-22,-1.8 L-23.6,-0.8 L-25.8,-2.8 Q-30,-1 -34,-4.3Z" fill="#6a4a22" stroke="#2f4043" stroke-width=".5"/>
<path d="M-15.3,-19.5 L-0.5,-12.8 L-0.5,-8 L-14.2,-14Z" fill="#6a5636" stroke="#2f4043" stroke-width=".5"/>
<path d="M-14.2,-14 L-0.5,-8 L-0.5,-6 L-13.6,-11.8Z" fill="#3a4749" stroke="#2f4043" stroke-width=".4"/>
<path d="M-10,-37 L-22,-37.5 Q-28.5,-37 -29,-31 L-28.5,-27 L-23,-24 L-14,-19 L-2,-14 L4,-24Z" fill="#33494d" stroke="#2f4043" stroke-width=".75"/>
<path d="M-25,-29.5 L-13,-24" stroke="#2f4043" stroke-width=".4" fill="none" opacity=".7"/>
<path d="M-9,-53 C-5,-57.5 4,-58.5 8.5,-56 C11.5,-52 11,-42 10,-34 L10,-20 L1,-22 L-6,-29.5 L-13,-31.5 C-16,-38 -14,-47 -9,-53Z" fill="#33494d" stroke="#2f4043" stroke-width=".85"/>
<path d="M3.5,-54.5 C5.5,-49 5.5,-43 4.5,-37 M-3,-33 C-1,-31 2,-30.5 5,-31.5" fill="none" stroke="#9fb0b3" stroke-width=".45" opacity=".55"/>
<path d="M-9,-52.5 C-13,-50 -15,-45 -15.5,-41.5 L-17.5,-42 L-18,-37.8 L-12.5,-35.5 C-9.5,-36 -7,-40 -6.5,-45Z" fill="#33494d" stroke="#2f4043" stroke-width=".75"/>
<path d="M-17.5,-42.3 Q-21,-42.3 -21.5,-39.8 Q-21,-37.3 -18,-37.6Z" fill="#f6cf98" stroke="#2f4043" stroke-width=".5"/>
<path d="M-4,-60 L-4.5,-55 L2,-55.5 L3,-60Z" fill="#f6cf98" stroke="#2f4043" stroke-width=".5"/>
<path d="M-5,-55.5 L-1,-54 L4.5,-57 L3,-58.5 L-1,-56.5 L-4.5,-57.5Z" fill="#fff" stroke="#2f4043" stroke-width=".4"/>
<ellipse cx="-1.7" cy="-65.6" rx="6.9" ry="8.1" fill="#f6cf98" stroke="#2f4043" stroke-width=".85"/>
<path d="M-6.8,-71.3 C-3.8,-75.3 4.2,-74.8 5.2,-68 C5.9,-64 4.8,-59.8 2,-57.8 L-1,-59 C-1.3,-61 -1.8,-62 -2.8,-62.3 C-3.8,-64 -4,-66 -4.8,-67.5 C-5.6,-69 -7,-70 -6.8,-71.3Z" fill="#f2c630" stroke="#2f4043" stroke-width=".5"/>
<path d="M-2.6,-62.5 C-1.2,-63.5 -0.8,-65.5 -1.8,-66.5" fill="none" stroke="#2f4043" stroke-width=".4"/>
<path d="M0.3,-10.5 L18,-21.8 L18,-19 L2.5,-8.8 L0.3,-8.8Z" fill="#3a4749" stroke="#2f4043" stroke-width=".5"/>
<path d="M-1.5,-25.7 L17.9,-37.2 L17.9,-21.6 L0.2,-10.5Z" fill="#7d6946" stroke="#2f4043" stroke-width=".85"/>
<path d="M-1.9,-26 L0,-10.5" stroke="#2f4043" stroke-width="2.5" stroke-linecap="round"/>
<path d="M-1.9,-26 L0,-10.5" stroke="#cfd3d6" stroke-width="1.2" stroke-linecap="round"/>
<path d="M18.4,-37.3 L18.4,-18" stroke="#2f4043" stroke-width="2.3" stroke-linecap="round"/>
<path d="M18.7,-37 L18.7,-18.5" stroke="#8e979a" stroke-width=".6" stroke-linecap="round"/>
<path d="M-1.6,-18.5 L-15,-23.3 Q-16.9,-23.6 -16.4,-21.5 L-14.4,-14 L-1.5,-8" fill="none" stroke="#2f4043" stroke-width="2.4" stroke-linecap="round" stroke-linejoin="round"/>
<path d="M-1.6,-18.5 L-15,-23.3 Q-16.9,-23.6 -16.4,-21.5 L-14.4,-14 L-1.5,-8" fill="none" stroke="#cfd3d6" stroke-width="1.1" stroke-linecap="round" stroke-linejoin="round"/>
</g>
<g transform="translate(279.4,452)">
<path d="M-14.5,13.6 L1.5,4.2 Q3.2,3.2 5,4.2 L20.8,15 Q22.8,16.6 21.5,18.8 L5.6,29.6 Q3,31.2 0.8,29.7 L-14.8,18.4 Q-17.2,15.8 -14.5,13.6Z" fill="url(#sh)"/>
<path d="M0,-2.3 L-19,3.8" stroke="#2f4043" stroke-width="2.8" stroke-linecap="round"/>
<path d="M0,-2.3 L20,1.8" stroke="#2f4043" stroke-width="2.8" stroke-linecap="round"/>
<path d="M0,-2.3 L-0.8,14" stroke="#2f4043" stroke-width="2.8" stroke-linecap="round"/>
<path d="M0,-2.3 L-19,3.8" stroke="#cfd3d6" stroke-width="1.4" stroke-linecap="round"/>
<path d="M0,-2.3 L20,1.8" stroke="#cfd3d6" stroke-width="1.4" stroke-linecap="round"/>
<path d="M0,-2.3 L-0.8,14" stroke="#cfd3d6" stroke-width="1.4" stroke-linecap="round"/>
<ellipse cx="-19" cy="5.0" rx="1.6" ry="1.4" fill="#e4e6e7" stroke="#2f4043" stroke-width=".5"/>
<ellipse cx="20" cy="3.0" rx="1.6" ry="1.4" fill="#e4e6e7" stroke="#2f4043" stroke-width=".5"/>
<ellipse cx="-0.8" cy="15.2" rx="1.6" ry="1.4" fill="#e4e6e7" stroke="#2f4043" stroke-width=".5"/>
<path d="M0,-12 L0,1" stroke="#2f4043" stroke-width="3.5"/>
<path d="M0,-12 L0,1" stroke="#cfd3d6" stroke-width="1.9"/>
<path d="M-22.5,-25 L-22.3,-9 L-17,-6.5 L-15,-8 L-17.6,-10 L-16.5,-24Z" fill="#44858f" stroke="#2f4043" stroke-width=".75"/>
<path d="M-23,-10 L-15,-6 L-15,-8.5 L-19,-11Z" fill="#6a4a22" stroke="#2f4043" stroke-width=".5"/>
<path d="M-29.3,-31 C-30.4,-24 -30.4,-14 -29.8,-7 L-23.6,-6 C-22,-14 -21.6,-22 -22.2,-30Z" fill="#44858f" stroke="#2f4043" stroke-width=".75"/>
<path d="M-34,-4.3 Q-33.3,-7.2 -30,-7.8 L-23.6,-6.6 L-22,-1.8 L-23.6,-0.8 L-25.8,-2.8 Q-30,-1 -34,-4.3Z" fill="#6a4a22" stroke="#2f4043" stroke-width=".5"/>
<path d="M-15.3,-19.5 L-0.5,-12.8 L-0.5,-8 L-14.2,-14Z" fill="#6a5636" stroke="#2f4043" stroke-width=".5"/>
<path d="M-14.2,-14 L-0.5,-8 L-0.5,-6 L-13.6,-11.8Z" fill="#3a4749" stroke="#2f4043" stroke-width=".4"/>
<path d="M-10,-37 L-22,-37.5 Q-28.5,-37 -29,-31 L-28.5,-27 L-23,-24 L-14,-19 L-2,-14 L4,-24Z" fill="#44858f" stroke="#2f4043" stroke-width=".75"/>
<path d="M-25,-29.5 L-13,-24" stroke="#2f4043" stroke-width=".4" fill="none" opacity=".7"/>
<path d="M-9,-53 C-5,-57.5 4,-58.5 8.5,-56 C11.5,-52 11,-42 10,-34 L10,-20 L1,-22 L-6,-29.5 L-13,-31.5 C-16,-38 -14,-47 -9,-53Z" fill="#4f929c" stroke="#2f4043" stroke-width=".85"/>
<path d="M3.5,-54.5 C5.5,-49 5.5,-43 4.5,-37 M-3,-33 C-1,-31 2,-30.5 5,-31.5" fill="none" stroke="#2f4043" stroke-width=".45" opacity=".35"/>
<path d="M-9,-52.5 C-13,-50 -15,-45 -15.5,-41.5 L-17.5,-42 L-18,-37.8 L-12.5,-35.5 C-9.5,-36 -7,-40 -6.5,-45Z" fill="#4f929c" stroke="#2f4043" stroke-width=".75"/>
<path d="M-17.5,-42.3 Q-21,-42.3 -21.5,-39.8 Q-21,-37.3 -18,-37.6Z" fill="#f6cf98" stroke="#2f4043" stroke-width=".5"/>
<path d="M-4,-60 L-4.5,-55 L2,-55.5 L3,-60Z" fill="#f6cf98" stroke="#2f4043" stroke-width=".5"/>
<path d="M-5,-55.5 L-1,-54 L4.5,-57 L3,-58.5 L-1,-56.5 L-4.5,-57.5Z" fill="#fff" stroke="#2f4043" stroke-width=".4"/>
<ellipse cx="-1.7" cy="-65.6" rx="6.9" ry="8.1" fill="#f6cf98" stroke="#2f4043" stroke-width=".85"/>
<path d="M-6.8,-71.3 C-3.8,-75.3 4.2,-74.8 5.2,-68 C5.9,-64 4.8,-59.8 2,-57.8 L-1,-59 C-1.3,-61 -1.8,-62 -2.8,-62.3 C-3.8,-64 -4,-66 -4.8,-67.5 C-5.6,-69 -7,-70 -6.8,-71.3Z" fill="#2c3a3e" stroke="#2f4043" stroke-width=".5"/>
<path d="M-2.6,-62.5 C-1.2,-63.5 -0.8,-65.5 -1.8,-66.5" fill="none" stroke="#2f4043" stroke-width=".4"/>
<path d="M0.3,-10.5 L18,-21.8 L18,-19 L2.5,-8.8 L0.3,-8.8Z" fill="#3a4749" stroke="#2f4043" stroke-width=".5"/>
<path d="M-1.5,-25.7 L17.9,-37.2 L17.9,-21.6 L0.2,-10.5Z" fill="#7d6946" stroke="#2f4043" stroke-width=".85"/>
<path d="M-1.9,-26 L0,-10.5" stroke="#2f4043" stroke-width="2.5" stroke-linecap="round"/>
<path d="M-1.9,-26 L0,-10.5" stroke="#cfd3d6" stroke-width="1.2" stroke-linecap="round"/>
<path d="M18.4,-37.3 L18.4,-18" stroke="#2f4043" stroke-width="2.3" stroke-linecap="round"/>
<path d="M18.7,-37 L18.7,-18.5" stroke="#8e979a" stroke-width=".6" stroke-linecap="round"/>
<path d="M-1.6,-18.5 L-15,-23.3 Q-16.9,-23.6 -16.4,-21.5 L-14.4,-14 L-1.5,-8" fill="none" stroke="#2f4043" stroke-width="2.4" stroke-linecap="round" stroke-linejoin="round"/>
<path d="M-1.6,-18.5 L-15,-23.3 Q-16.9,-23.6 -16.4,-21.5 L-14.4,-14 L-1.5,-8" fill="none" stroke="#cfd3d6" stroke-width="1.1" stroke-linecap="round" stroke-linejoin="round"/>
</g>
<g transform="translate(246.3,471)">
<path d="M-14.5,13.6 L1.5,4.2 Q3.2,3.2 5,4.2 L20.8,15 Q22.8,16.6 21.5,18.8 L5.6,29.6 Q3,31.2 0.8,29.7 L-14.8,18.4 Q-17.2,15.8 -14.5,13.6Z" fill="url(#sh)"/>
<path d="M0,-2.3 L-19,3.8" stroke="#2f4043" stroke-width="2.8" stroke-linecap="round"/>
<path d="M0,-2.3 L20,1.8" stroke="#2f4043" stroke-width="2.8" stroke-linecap="round"/>
<path d="M0,-2.3 L-0.8,14" stroke="#2f4043" stroke-width="2.8" stroke-linecap="round"/>
<path d="M0,-2.3 L-19,3.8" stroke="#cfd3d6" stroke-width="1.4" stroke-linecap="round"/>
<path d="M0,-2.3 L20,1.8" stroke="#cfd3d6" stroke-width="1.4" stroke-linecap="round"/>
<path d="M0,-2.3 L-0.8,14" stroke="#cfd3d6" stroke-width="1.4" stroke-linecap="round"/>
<ellipse cx="-19" cy="5.0" rx="1.6" ry="1.4" fill="#e4e6e7" stroke="#2f4043" stroke-width=".5"/>
<ellipse cx="20" cy="3.0" rx="1.6" ry="1.4" fill="#e4e6e7" stroke="#2f4043" stroke-width=".5"/>
<ellipse cx="-0.8" cy="15.2" rx="1.6" ry="1.4" fill="#e4e6e7" stroke="#2f4043" stroke-width=".5"/>
<path d="M0,-12 L0,1" stroke="#2f4043" stroke-width="3.5"/>
<path d="M0,-12 L0,1" stroke="#cfd3d6" stroke-width="1.9"/>
<path d="M-22.5,-25 L-22.3,-9 L-17,-6.5 L-15,-8 L-17.6,-10 L-16.5,-24Z" fill="#f6cf98" stroke="#2f4043" stroke-width=".75"/>
<path d="M-23,-10 L-15,-6 L-15,-8.5 L-19,-11Z" fill="#7a3d14" stroke="#2f4043" stroke-width=".5"/>
<path d="M-29.3,-31 C-30.4,-24 -30.4,-14 -29.8,-7 L-23.6,-6 C-22,-14 -21.6,-22 -22.2,-30Z" fill="#f6cf98" stroke="#2f4043" stroke-width=".75"/>
<path d="M-34,-4.3 Q-33.3,-7.2 -30,-7.8 L-23.6,-6.6 L-22,-1.8 L-23.6,-0.8 L-25.8,-2.8 Q-30,-1 -34,-4.3Z" fill="#7a3d14" stroke="#2f4043" stroke-width=".5"/>
<path d="M-15.3,-19.5 L-0.5,-12.8 L-0.5,-8 L-14.2,-14Z" fill="#6a5636" stroke="#2f4043" stroke-width=".5"/>
<path d="M-14.2,-14 L-0.5,-8 L-0.5,-6 L-13.6,-11.8Z" fill="#3a4749" stroke="#2f4043" stroke-width=".4"/>
<path d="M-10,-37 L-22,-37.5 Q-28.5,-37 -29,-31 L-28.5,-27 L-23,-24 L-14,-19 L-2,-14 L4,-24Z" fill="#d9a45e" stroke="#2f4043" stroke-width=".75"/>
<path d="M-25,-29.5 L-13,-24" stroke="#2f4043" stroke-width=".4" fill="none" opacity=".7"/>
<path d="M-9,-53 C-5,-57.5 4,-58.5 8.5,-56 C11.5,-52 11,-42 10,-34 L10,-20 L1,-22 L-6,-29.5 L-13,-31.5 C-16,-38 -14,-47 -9,-53Z" fill="#7a3d14" stroke="#2f4043" stroke-width=".85"/>
<path d="M3.5,-54.5 C5.5,-49 5.5,-43 4.5,-37 M-3,-33 C-1,-31 2,-30.5 5,-31.5" fill="none" stroke="#2f4043" stroke-width=".45" opacity=".35"/>
<path d="M-9,-52.5 C-13,-50 -15,-45 -15.5,-41.5 L-17.5,-42 L-18,-37.8 L-12.5,-35.5 C-9.5,-36 -7,-40 -6.5,-45Z" fill="#7a3d14" stroke="#2f4043" stroke-width=".75"/>
<path d="M-17.5,-42.3 Q-21,-42.3 -21.5,-39.8 Q-21,-37.3 -18,-37.6Z" fill="#f6cf98" stroke="#2f4043" stroke-width=".5"/>
<path d="M-4,-60 L-4.5,-55 L2,-55.5 L3,-60Z" fill="#f6cf98" stroke="#2f4043" stroke-width=".5"/>
<path d="M-5,-55.5 L-1,-54 L4.5,-57 L3,-58.5 L-1,-56.5 L-4.5,-57.5Z" fill="#fff" stroke="#2f4043" stroke-width=".4"/>
<path d="M-1,-74 C5.5,-74.5 7.8,-69 6.8,-63 C6.8,-58 8.2,-54 6.8,-48.5 L4.3,-51 L2.8,-47 L0.3,-51 L-2.2,-53.5 C-2.7,-58 -3.2,-62 -5,-66 C-6.5,-70 -4.5,-73.5 -1,-74Z" fill="#f2c630" stroke="#2f4043" stroke-width=".85"/>
<path d="M-3,-73 C-7.8,-72.5 -9.4,-67 -8.7,-63 C-8.3,-59.8 -6.5,-58 -3.2,-58 C-2.2,-60 -2.2,-64 -3.6,-67 C-4.3,-69 -4,-71.5 -3,-73Z" fill="#f6cf98" stroke="#2f4043" stroke-width=".75"/>
<path d="M0.3,-10.5 L18,-21.8 L18,-19 L2.5,-8.8 L0.3,-8.8Z" fill="#3a4749" stroke="#2f4043" stroke-width=".5"/>
<path d="M-1.5,-25.7 L17.9,-37.2 L17.9,-21.6 L0.2,-10.5Z" fill="#7d6946" stroke="#2f4043" stroke-width=".85"/>
<path d="M-1.9,-26 L0,-10.5" stroke="#2f4043" stroke-width="2.5" stroke-linecap="round"/>
<path d="M-1.9,-26 L0,-10.5" stroke="#cfd3d6" stroke-width="1.2" stroke-linecap="round"/>
<path d="M18.4,-37.3 L18.4,-18" stroke="#2f4043" stroke-width="2.3" stroke-linecap="round"/>
<path d="M18.7,-37 L18.7,-18.5" stroke="#8e979a" stroke-width=".6" stroke-linecap="round"/>
<path d="M-1.6,-18.5 L-15,-23.3 Q-16.9,-23.6 -16.4,-21.5 L-14.4,-14 L-1.5,-8" fill="none" stroke="#2f4043" stroke-width="2.4" stroke-linecap="round" stroke-linejoin="round"/>
<path d="M-1.6,-18.5 L-15,-23.3 Q-16.9,-23.6 -16.4,-21.5 L-14.4,-14 L-1.5,-8" fill="none" stroke="#cfd3d6" stroke-width="1.1" stroke-linecap="round" stroke-linejoin="round"/>
</g>
<g transform="translate(476.5,409.3)">
<path d="M-14.5,13.6 L1.5,4.2 Q3.2,3.2 5,4.2 L20.8,15 Q22.8,16.6 21.5,18.8 L5.6,29.6 Q3,31.2 0.8,29.7 L-14.8,18.4 Q-17.2,15.8 -14.5,13.6Z" fill="url(#sh)"/>
<path d="M0,-2.3 L-19,3.8" stroke="#2f4043" stroke-width="2.8" stroke-linecap="round"/>
<path d="M0,-2.3 L20,1.8" stroke="#2f4043" stroke-width="2.8" stroke-linecap="round"/>
<path d="M0,-2.3 L-0.8,14" stroke="#2f4043" stroke-width="2.8" stroke-linecap="round"/>
<path d="M0,-2.3 L-19,3.8" stroke="#cfd3d6" stroke-width="1.4" stroke-linecap="round"/>
<path d="M0,-2.3 L20,1.8" stroke="#cfd3d6" stroke-width="1.4" stroke-linecap="round"/>
<path d="M0,-2.3 L-0.8,14" stroke="#cfd3d6" stroke-width="1.4" stroke-linecap="round"/>
<ellipse cx="-19" cy="5.0" rx="1.6" ry="1.4" fill="#e4e6e7" stroke="#2f4043" stroke-width=".5"/>
<ellipse cx="20" cy="3.0" rx="1.6" ry="1.4" fill="#e4e6e7" stroke="#2f4043" stroke-width=".5"/>
<ellipse cx="-0.8" cy="15.2" rx="1.6" ry="1.4" fill="#e4e6e7" stroke="#2f4043" stroke-width=".5"/>
<path d="M0,-12 L0,1" stroke="#2f4043" stroke-width="3.5"/>
<path d="M0,-12 L0,1" stroke="#cfd3d6" stroke-width="1.9"/>
<path d="M-22.5,-25 L-22.3,-9 L-17,-6.5 L-15,-8 L-17.6,-10 L-16.5,-24Z" fill="#33494d" stroke="#2f4043" stroke-width=".75"/>
<path d="M-23,-10 L-15,-6 L-15,-8.5 L-19,-11Z" fill="#6a4a22" stroke="#2f4043" stroke-width=".5"/>
<path d="M-29.3,-31 C-30.4,-24 -30.4,-14 -29.8,-7 L-23.6,-6 C-22,-14 -21.6,-22 -22.2,-30Z" fill="#33494d" stroke="#2f4043" stroke-width=".75"/>
<path d="M-34,-4.3 Q-33.3,-7.2 -30,-7.8 L-23.6,-6.6 L-22,-1.8 L-23.6,-0.8 L-25.8,-2.8 Q-30,-1 -34,-4.3Z" fill="#6a4a22" stroke="#2f4043" stroke-width=".5"/>
<path d="M-15.3,-19.5 L-0.5,-12.8 L-0.5,-8 L-14.2,-14Z" fill="#6a5636" stroke="#2f4043" stroke-width=".5"/>
<path d="M-14.2,-14 L-0.5,-8 L-0.5,-6 L-13.6,-11.8Z" fill="#3a4749" stroke="#2f4043" stroke-width=".4"/>
<path d="M-10,-37 L-22,-37.5 Q-28.5,-37 -29,-31 L-28.5,-27 L-23,-24 L-14,-19 L-2,-14 L4,-24Z" fill="#33494d" stroke="#2f4043" stroke-width=".75"/>
<path d="M-25,-29.5 L-13,-24" stroke="#2f4043" stroke-width=".4" fill="none" opacity=".7"/>
<path d="M-9,-53 C-5,-57.5 4,-58.5 8.5,-56 C11.5,-52 11,-42 10,-34 L10,-20 L1,-22 L-6,-29.5 L-13,-31.5 C-16,-38 -14,-47 -9,-53Z" fill="#33494d" stroke="#2f4043" stroke-width=".85"/>
<path d="M3.5,-54.5 C5.5,-49 5.5,-43 4.5,-37 M-3,-33 C-1,-31 2,-30.5 5,-31.5" fill="none" stroke="#9fb0b3" stroke-width=".45" opacity=".55"/>
<path d="M-9,-52.5 C-13,-50 -15,-45 -15.5,-41.5 L-17.5,-42 L-18,-37.8 L-12.5,-35.5 C-9.5,-36 -7,-40 -6.5,-45Z" fill="#33494d" stroke="#2f4043" stroke-width=".75"/>
<path d="M-17.5,-42.3 Q-21,-42.3 -21.5,-39.8 Q-21,-37.3 -18,-37.6Z" fill="#f6cf98" stroke="#2f4043" stroke-width=".5"/>
<path d="M-4,-60 L-4.5,-55 L2,-55.5 L3,-60Z" fill="#f6cf98" stroke="#2f4043" stroke-width=".5"/>
<path d="M-5,-55.5 L-1,-54 L4.5,-57 L3,-58.5 L-1,-56.5 L-4.5,-57.5Z" fill="#fff" stroke="#2f4043" stroke-width=".4"/>
<ellipse cx="-1.7" cy="-65.6" rx="6.9" ry="8.1" fill="#f6cf98" stroke="#2f4043" stroke-width=".85"/>
<path d="M-6.8,-71.3 C-3.8,-75.3 4.2,-74.8 5.2,-68 C5.9,-64 4.8,-59.8 2,-57.8 L-1,-59 C-1.3,-61 -1.8,-62 -2.8,-62.3 C-3.8,-64 -4,-66 -4.8,-67.5 C-5.6,-69 -7,-70 -6.8,-71.3Z" fill="#f2c630" stroke="#2f4043" stroke-width=".5"/>
<path d="M-2.6,-62.5 C-1.2,-63.5 -0.8,-65.5 -1.8,-66.5" fill="none" stroke="#2f4043" stroke-width=".4"/>
<path d="M0.3,-10.5 L18,-21.8 L18,-19 L2.5,-8.8 L0.3,-8.8Z" fill="#3a4749" stroke="#2f4043" stroke-width=".5"/>
<path d="M-1.5,-25.7 L17.9,-37.2 L17.9,-21.6 L0.2,-10.5Z" fill="#7d6946" stroke="#2f4043" stroke-width=".85"/>
<path d="M-1.9,-26 L0,-10.5" stroke="#2f4043" stroke-width="2.5" stroke-linecap="round"/>
<path d="M-1.9,-26 L0,-10.5" stroke="#cfd3d6" stroke-width="1.2" stroke-linecap="round"/>
<path d="M18.4,-37.3 L18.4,-18" stroke="#2f4043" stroke-width="2.3" stroke-linecap="round"/>
<path d="M18.7,-37 L18.7,-18.5" stroke="#8e979a" stroke-width=".6" stroke-linecap="round"/>
<path d="M-1.6,-18.5 L-15,-23.3 Q-16.9,-23.6 -16.4,-21.5 L-14.4,-14 L-1.5,-8" fill="none" stroke="#2f4043" stroke-width="2.4" stroke-linecap="round" stroke-linejoin="round"/>
<path d="M-1.6,-18.5 L-15,-23.3 Q-16.9,-23.6 -16.4,-21.5 L-14.4,-14 L-1.5,-8" fill="none" stroke="#cfd3d6" stroke-width="1.1" stroke-linecap="round" stroke-linejoin="round"/>
</g>
<g transform="translate(442.5,429.4)">
<path d="M-14.5,13.6 L1.5,4.2 Q3.2,3.2 5,4.2 L20.8,15 Q22.8,16.6 21.5,18.8 L5.6,29.6 Q3,31.2 0.8,29.7 L-14.8,18.4 Q-17.2,15.8 -14.5,13.6Z" fill="url(#sh)"/>
<path d="M0,-2.3 L-19,3.8" stroke="#2f4043" stroke-width="2.8" stroke-linecap="round"/>
<path d="M0,-2.3 L20,1.8" stroke="#2f4043" stroke-width="2.8" stroke-linecap="round"/>
<path d="M0,-2.3 L-0.8,14" stroke="#2f4043" stroke-width="2.8" stroke-linecap="round"/>
<path d="M0,-2.3 L-19,3.8" stroke="#cfd3d6" stroke-width="1.4" stroke-linecap="round"/>
<path d="M0,-2.3 L20,1.8" stroke="#cfd3d6" stroke-width="1.4" stroke-linecap="round"/>
<path d="M0,-2.3 L-0.8,14" stroke="#cfd3d6" stroke-width="1.4" stroke-linecap="round"/>
<ellipse cx="-19" cy="5.0" rx="1.6" ry="1.4" fill="#e4e6e7" stroke="#2f4043" stroke-width=".5"/>
<ellipse cx="20" cy="3.0" rx="1.6" ry="1.4" fill="#e4e6e7" stroke="#2f4043" stroke-width=".5"/>
<ellipse cx="-0.8" cy="15.2" rx="1.6" ry="1.4" fill="#e4e6e7" stroke="#2f4043" stroke-width=".5"/>
<path d="M0,-12 L0,1" stroke="#2f4043" stroke-width="3.5"/>
<path d="M0,-12 L0,1" stroke="#cfd3d6" stroke-width="1.9"/>
<path d="M-22.5,-25 L-22.3,-9 L-17,-6.5 L-15,-8 L-17.6,-10 L-16.5,-24Z" fill="#f6cf98" stroke="#2f4043" stroke-width=".75"/>
<path d="M-23,-10 L-15,-6 L-15,-8.5 L-19,-11Z" fill="#6a4a22" stroke="#2f4043" stroke-width=".5"/>
<path d="M-29.3,-31 C-30.4,-24 -30.4,-14 -29.8,-7 L-23.6,-6 C-22,-14 -21.6,-22 -22.2,-30Z" fill="#f6cf98" stroke="#2f4043" stroke-width=".75"/>
<path d="M-34,-4.3 Q-33.3,-7.2 -30,-7.8 L-23.6,-6.6 L-22,-1.8 L-23.6,-0.8 L-25.8,-2.8 Q-30,-1 -34,-4.3Z" fill="#6a4a22" stroke="#2f4043" stroke-width=".5"/>
<path d="M-15.3,-19.5 L-0.5,-12.8 L-0.5,-8 L-14.2,-14Z" fill="#6a5636" stroke="#2f4043" stroke-width=".5"/>
<path d="M-14.2,-14 L-0.5,-8 L-0.5,-6 L-13.6,-11.8Z" fill="#3a4749" stroke="#2f4043" stroke-width=".4"/>
<path d="M-10,-37 L-22,-37.5 Q-28.5,-37 -29,-31 L-28.5,-27 L-23,-24 L-14,-19 L-2,-14 L4,-24Z" fill="#d9a45e" stroke="#2f4043" stroke-width=".75"/>
<path d="M-25,-29.5 L-13,-24" stroke="#2f4043" stroke-width=".4" fill="none" opacity=".7"/>
<path d="M-9,-53 C-5,-57.5 4,-58.5 8.5,-56 C11.5,-52 11,-42 10,-34 L10,-20 L1,-22 L-6,-29.5 L-13,-31.5 C-16,-38 -14,-47 -9,-53Z" fill="#e8c43b" stroke="#2f4043" stroke-width=".85"/>
<path d="M3.5,-54.5 C5.5,-49 5.5,-43 4.5,-37 M-3,-33 C-1,-31 2,-30.5 5,-31.5" fill="none" stroke="#2f4043" stroke-width=".45" opacity=".35"/>
<path d="M-9,-52.5 C-13,-50 -15,-45 -15.5,-41.5 L-17.5,-42 L-18,-37.8 L-12.5,-35.5 C-9.5,-36 -7,-40 -6.5,-45Z" fill="#e8c43b" stroke="#2f4043" stroke-width=".75"/>
<path d="M-17.5,-42.3 Q-21,-42.3 -21.5,-39.8 Q-21,-37.3 -18,-37.6Z" fill="#f6cf98" stroke="#2f4043" stroke-width=".5"/>
<path d="M-4,-60 L-4.5,-55 L2,-55.5 L3,-60Z" fill="#f6cf98" stroke="#2f4043" stroke-width=".5"/>
<path d="M-5,-55.5 L-1,-54 L4.5,-57 L3,-58.5 L-1,-56.5 L-4.5,-57.5Z" fill="#fff" stroke="#2f4043" stroke-width=".4"/>
<path d="M-1,-74 C5.5,-74.5 7.8,-69 6.8,-63 C6.8,-58 8.2,-54 6.8,-48.5 L4.3,-51 L2.8,-47 L0.3,-51 L-2.2,-53.5 C-2.7,-58 -3.2,-62 -5,-66 C-6.5,-70 -4.5,-73.5 -1,-74Z" fill="#ea8a2c" stroke="#2f4043" stroke-width=".85"/>
<path d="M-3,-73 C-7.8,-72.5 -9.4,-67 -8.7,-63 C-8.3,-59.8 -6.5,-58 -3.2,-58 C-2.2,-60 -2.2,-64 -3.6,-67 C-4.3,-69 -4,-71.5 -3,-73Z" fill="#f6cf98" stroke="#2f4043" stroke-width=".75"/>
<path d="M0.3,-10.5 L18,-21.8 L18,-19 L2.5,-8.8 L0.3,-8.8Z" fill="#3a4749" stroke="#2f4043" stroke-width=".5"/>
<path d="M-1.5,-25.7 L17.9,-37.2 L17.9,-21.6 L0.2,-10.5Z" fill="#7d6946" stroke="#2f4043" stroke-width=".85"/>
<path d="M-1.9,-26 L0,-10.5" stroke="#2f4043" stroke-width="2.5" stroke-linecap="round"/>
<path d="M-1.9,-26 L0,-10.5" stroke="#cfd3d6" stroke-width="1.2" stroke-linecap="round"/>
<path d="M18.4,-37.3 L18.4,-18" stroke="#2f4043" stroke-width="2.3" stroke-linecap="round"/>
<path d="M18.7,-37 L18.7,-18.5" stroke="#8e979a" stroke-width=".6" stroke-linecap="round"/>
<path d="M-1.6,-18.5 L-15,-23.3 Q-16.9,-23.6 -16.4,-21.5 L-14.4,-14 L-1.5,-8" fill="none" stroke="#2f4043" stroke-width="2.4" stroke-linecap="round" stroke-linejoin="round"/>
<path d="M-1.6,-18.5 L-15,-23.3 Q-16.9,-23.6 -16.4,-21.5 L-14.4,-14 L-1.5,-8" fill="none" stroke="#cfd3d6" stroke-width="1.1" stroke-linecap="round" stroke-linejoin="round"/>
</g>
<g transform="translate(410.1,446.3)">
<path d="M-14.5,13.6 L1.5,4.2 Q3.2,3.2 5,4.2 L20.8,15 Q22.8,16.6 21.5,18.8 L5.6,29.6 Q3,31.2 0.8,29.7 L-14.8,18.4 Q-17.2,15.8 -14.5,13.6Z" fill="url(#sh)"/>
<path d="M0,-2.3 L-19,3.8" stroke="#2f4043" stroke-width="2.8" stroke-linecap="round"/>
<path d="M0,-2.3 L20,1.8" stroke="#2f4043" stroke-width="2.8" stroke-linecap="round"/>
<path d="M0,-2.3 L-0.8,14" stroke="#2f4043" stroke-width="2.8" stroke-linecap="round"/>
<path d="M0,-2.3 L-19,3.8" stroke="#cfd3d6" stroke-width="1.4" stroke-linecap="round"/>
<path d="M0,-2.3 L20,1.8" stroke="#cfd3d6" stroke-width="1.4" stroke-linecap="round"/>
<path d="M0,-2.3 L-0.8,14" stroke="#cfd3d6" stroke-width="1.4" stroke-linecap="round"/>
<ellipse cx="-19" cy="5.0" rx="1.6" ry="1.4" fill="#e4e6e7" stroke="#2f4043" stroke-width=".5"/>
<ellipse cx="20" cy="3.0" rx="1.6" ry="1.4" fill="#e4e6e7" stroke="#2f4043" stroke-width=".5"/>
<ellipse cx="-0.8" cy="15.2" rx="1.6" ry="1.4" fill="#e4e6e7" stroke="#2f4043" stroke-width=".5"/>
<path d="M0,-12 L0,1" stroke="#2f4043" stroke-width="3.5"/>
<path d="M0,-12 L0,1" stroke="#cfd3d6" stroke-width="1.9"/>
<path d="M-22.5,-25 L-22.3,-9 L-17,-6.5 L-15,-8 L-17.6,-10 L-16.5,-24Z" fill="#33494d" stroke="#2f4043" stroke-width=".75"/>
<path d="M-23,-10 L-15,-6 L-15,-8.5 L-19,-11Z" fill="#6a4a22" stroke="#2f4043" stroke-width=".5"/>
<path d="M-29.3,-31 C-30.4,-24 -30.4,-14 -29.8,-7 L-23.6,-6 C-22,-14 -21.6,-22 -22.2,-30Z" fill="#33494d" stroke="#2f4043" stroke-width=".75"/>
<path d="M-34,-4.3 Q-33.3,-7.2 -30,-7.8 L-23.6,-6.6 L-22,-1.8 L-23.6,-0.8 L-25.8,-2.8 Q-30,-1 -34,-4.3Z" fill="#6a4a22" stroke="#2f4043" stroke-width=".5"/>
<path d="M-15.3,-19.5 L-0.5,-12.8 L-0.5,-8 L-14.2,-14Z" fill="#6a5636" stroke="#2f4043" stroke-width=".5"/>
<path d="M-14.2,-14 L-0.5,-8 L-0.5,-6 L-13.6,-11.8Z" fill="#3a4749" stroke="#2f4043" stroke-width=".4"/>
<path d="M-10,-37 L-22,-37.5 Q-28.5,-37 -29,-31 L-28.5,-27 L-23,-24 L-14,-19 L-2,-14 L4,-24Z" fill="#33494d" stroke="#2f4043" stroke-width=".75"/>
<path d="M-25,-29.5 L-13,-24" stroke="#2f4043" stroke-width=".4" fill="none" opacity=".7"/>
<path d="M-9,-53 C-5,-57.5 4,-58.5 8.5,-56 C11.5,-52 11,-42 10,-34 L10,-20 L1,-22 L-6,-29.5 L-13,-31.5 C-16,-38 -14,-47 -9,-53Z" fill="#ee3b24" stroke="#2f4043" stroke-width=".85"/>
<path d="M3.5,-54.5 C5.5,-49 5.5,-43 4.5,-37 M-3,-33 C-1,-31 2,-30.5 5,-31.5" fill="none" stroke="#2f4043" stroke-width=".45" opacity=".35"/>
<path d="M-9,-52.5 C-13,-50 -15,-45 -15.5,-41.5 L-17.5,-42 L-18,-37.8 L-12.5,-35.5 C-9.5,-36 -7,-40 -6.5,-45Z" fill="#ee3b24" stroke="#2f4043" stroke-width=".75"/>
<path d="M-17.5,-42.3 Q-21,-42.3 -21.5,-39.8 Q-21,-37.3 -18,-37.6Z" fill="#f6cf98" stroke="#2f4043" stroke-width=".5"/>
<path d="M-4,-60 L-4.5,-55 L2,-55.5 L3,-60Z" fill="#f6cf98" stroke="#2f4043" stroke-width=".5"/>
<path d="M-5,-55.5 L-1,-54 L4.5,-57 L3,-58.5 L-1,-56.5 L-4.5,-57.5Z" fill="#fff" stroke="#2f4043" stroke-width=".4"/>
<ellipse cx="-1.7" cy="-65.6" rx="6.9" ry="8.1" fill="#f6cf98" stroke="#2f4043" stroke-width=".85"/>
<path d="M-6.8,-71.3 C-3.8,-75.3 4.2,-74.8 5.2,-68 C5.9,-64 4.8,-59.8 2,-57.8 L-1,-59 C-1.3,-61 -1.8,-62 -2.8,-62.3 C-3.8,-64 -4,-66 -4.8,-67.5 C-5.6,-69 -7,-70 -6.8,-71.3Z" fill="#8b4a22" stroke="#2f4043" stroke-width=".5"/>
<path d="M-2.6,-62.5 C-1.2,-63.5 -0.8,-65.5 -1.8,-66.5" fill="none" stroke="#2f4043" stroke-width=".4"/>
<path d="M0.3,-10.5 L18,-21.8 L18,-19 L2.5,-8.8 L0.3,-8.8Z" fill="#3a4749" stroke="#2f4043" stroke-width=".5"/>
<path d="M-1.5,-25.7 L17.9,-37.2 L17.9,-21.6 L0.2,-10.5Z" fill="#7d6946" stroke="#2f4043" stroke-width=".85"/>
<path d="M-1.9,-26 L0,-10.5" stroke="#2f4043" stroke-width="2.5" stroke-linecap="round"/>
<path d="M-1.9,-26 L0,-10.5" stroke="#cfd3d6" stroke-width="1.2" stroke-linecap="round"/>
<path d="M18.4,-37.3 L18.4,-18" stroke="#2f4043" stroke-width="2.3" stroke-linecap="round"/>
<path d="M18.7,-37 L18.7,-18.5" stroke="#8e979a" stroke-width=".6" stroke-linecap="round"/>
<path d="M-1.6,-18.5 L-15,-23.3 Q-16.9,-23.6 -16.4,-21.5 L-14.4,-14 L-1.5,-8" fill="none" stroke="#2f4043" stroke-width="2.4" stroke-linecap="round" stroke-linejoin="round"/>
<path d="M-1.6,-18.5 L-15,-23.3 Q-16.9,-23.6 -16.4,-21.5 L-14.4,-14 L-1.5,-8" fill="none" stroke="#cfd3d6" stroke-width="1.1" stroke-linecap="round" stroke-linejoin="round"/>
</g>
<g transform="translate(377.7,466.4)">
<path d="M-14.5,13.6 L1.5,4.2 Q3.2,3.2 5,4.2 L20.8,15 Q22.8,16.6 21.5,18.8 L5.6,29.6 Q3,31.2 0.8,29.7 L-14.8,18.4 Q-17.2,15.8 -14.5,13.6Z" fill="url(#sh)"/>
<path d="M0,-2.3 L-19,3.8" stroke="#2f4043" stroke-width="2.8" stroke-linecap="round"/>
<path d="M0,-2.3 L20,1.8" stroke="#2f4043" stroke-width="2.8" stroke-linecap="round"/>
<path d="M0,-2.3 L-0.8,14" stroke="#2f4043" stroke-width="2.8" stroke-linecap="round"/>
<path d="M0,-2.3 L-19,3.8" stroke="#cfd3d6" stroke-width="1.4" stroke-linecap="round"/>
<path d="M0,-2.3 L20,1.8" stroke="#cfd3d6" stroke-width="1.4" stroke-linecap="round"/>
<path d="M0,-2.3 L-0.8,14" stroke="#cfd3d6" stroke-width="1.4" stroke-linecap="round"/>
<ellipse cx="-19" cy="5.0" rx="1.6" ry="1.4" fill="#e4e6e7" stroke="#2f4043" stroke-width=".5"/>
<ellipse cx="20" cy="3.0" rx="1.6" ry="1.4" fill="#e4e6e7" stroke="#2f4043" stroke-width=".5"/>
<ellipse cx="-0.8" cy="15.2" rx="1.6" ry="1.4" fill="#e4e6e7" stroke="#2f4043" stroke-width=".5"/>
<path d="M0,-12 L0,1" stroke="#2f4043" stroke-width="3.5"/>
<path d="M0,-12 L0,1" stroke="#cfd3d6" stroke-width="1.9"/>
<path d="M-22.5,-25 L-22.3,-9 L-17,-6.5 L-15,-8 L-17.6,-10 L-16.5,-24Z" fill="#86491a" stroke="#2f4043" stroke-width=".75"/>
<path d="M-23,-10 L-15,-6 L-15,-8.5 L-19,-11Z" fill="#6a4a22" stroke="#2f4043" stroke-width=".5"/>
<path d="M-29.3,-31 C-30.4,-24 -30.4,-14 -29.8,-7 L-23.6,-6 C-22,-14 -21.6,-22 -22.2,-30Z" fill="#86491a" stroke="#2f4043" stroke-width=".75"/>
<path d="M-34,-4.3 Q-33.3,-7.2 -30,-7.8 L-23.6,-6.6 L-22,-1.8 L-23.6,-0.8 L-25.8,-2.8 Q-30,-1 -34,-4.3Z" fill="#6a4a22" stroke="#2f4043" stroke-width=".5"/>
<path d="M-15.3,-19.5 L-0.5,-12.8 L-0.5,-8 L-14.2,-14Z" fill="#6a5636" stroke="#2f4043" stroke-width=".5"/>
<path d="M-14.2,-14 L-0.5,-8 L-0.5,-6 L-13.6,-11.8Z" fill="#3a4749" stroke="#2f4043" stroke-width=".4"/>
<path d="M-10,-37 L-22,-37.5 Q-28.5,-37 -29,-31 L-28.5,-27 L-23,-24 L-14,-19 L-2,-14 L4,-24Z" fill="#86491a" stroke="#2f4043" stroke-width=".75"/>
<path d="M-25,-29.5 L-13,-24" stroke="#2f4043" stroke-width=".4" fill="none" opacity=".7"/>
<path d="M-9,-53 C-5,-57.5 4,-58.5 8.5,-56 C11.5,-52 11,-42 10,-34 L10,-20 L1,-22 L-6,-29.5 L-13,-31.5 C-16,-38 -14,-47 -9,-53Z" fill="#e8c43b" stroke="#2f4043" stroke-width=".85"/>
<path d="M3.5,-54.5 C5.5,-49 5.5,-43 4.5,-37 M-3,-33 C-1,-31 2,-30.5 5,-31.5" fill="none" stroke="#2f4043" stroke-width=".45" opacity=".35"/>
<path d="M-9,-52.5 C-13,-50 -15,-45 -15.5,-41.5 L-17.5,-42 L-18,-37.8 L-12.5,-35.5 C-9.5,-36 -7,-40 -6.5,-45Z" fill="#e8c43b" stroke="#2f4043" stroke-width=".75"/>
<path d="M-14.3,-47 C-15.2,-44.5 -15.5,-42.8 -15.5,-41.5 L-17.5,-42 L-18,-37.8 L-12.5,-35.5 C-10.3,-36 -8.6,-38 -7.6,-41 Z" fill="#ffffff" stroke="#2f4043" stroke-width=".5"/>
<path d="M-17.5,-42.3 Q-21,-42.3 -21.5,-39.8 Q-21,-37.3 -18,-37.6Z" fill="#f6cf98" stroke="#2f4043" stroke-width=".5"/>
<path d="M-4,-60 L-4.5,-55 L2,-55.5 L3,-60Z" fill="#f6cf98" stroke="#2f4043" stroke-width=".5"/>
<ellipse cx="-1.7" cy="-65.6" rx="6.9" ry="8.1" fill="#f6cf98" stroke="#2f4043" stroke-width=".85"/>
<path d="M-6.8,-71.3 C-3.8,-75.3 4.2,-74.8 5.2,-68 C5.9,-64 4.8,-59.8 2,-57.8 L-1,-59 C-1.3,-61 -1.8,-62 -2.8,-62.3 C-3.8,-64 -4,-66 -4.8,-67.5 C-5.6,-69 -7,-70 -6.8,-71.3Z" fill="#2c3a3e" stroke="#2f4043" stroke-width=".5"/>
<path d="M-2.6,-62.5 C-1.2,-63.5 -0.8,-65.5 -1.8,-66.5" fill="none" stroke="#2f4043" stroke-width=".4"/>
<path d="M0.3,-10.5 L18,-21.8 L18,-19 L2.5,-8.8 L0.3,-8.8Z" fill="#3a4749" stroke="#2f4043" stroke-width=".5"/>
<path d="M-1.5,-25.7 L17.9,-37.2 L17.9,-21.6 L0.2,-10.5Z" fill="#7d6946" stroke="#2f4043" stroke-width=".85"/>
<path d="M-1.9,-26 L0,-10.5" stroke="#2f4043" stroke-width="2.5" stroke-linecap="round"/>
<path d="M-1.9,-26 L0,-10.5" stroke="#cfd3d6" stroke-width="1.2" stroke-linecap="round"/>
<path d="M18.4,-37.3 L18.4,-18" stroke="#2f4043" stroke-width="2.3" stroke-linecap="round"/>
<path d="M18.7,-37 L18.7,-18.5" stroke="#8e979a" stroke-width=".6" stroke-linecap="round"/>
<path d="M-1.6,-18.5 L-15,-23.3 Q-16.9,-23.6 -16.4,-21.5 L-14.4,-14 L-1.5,-8" fill="none" stroke="#2f4043" stroke-width="2.4" stroke-linecap="round" stroke-linejoin="round"/>
<path d="M-1.6,-18.5 L-15,-23.3 Q-16.9,-23.6 -16.4,-21.5 L-14.4,-14 L-1.5,-8" fill="none" stroke="#cfd3d6" stroke-width="1.1" stroke-linecap="round" stroke-linejoin="round"/>
</g>
<g transform="translate(343.7,492.6)">
<path d="M-14.5,13.6 L1.5,4.2 Q3.2,3.2 5,4.2 L20.8,15 Q22.8,16.6 21.5,18.8 L5.6,29.6 Q3,31.2 0.8,29.7 L-14.8,18.4 Q-17.2,15.8 -14.5,13.6Z" fill="url(#sh)"/>
<path d="M0,-2.3 L-19,3.8" stroke="#2f4043" stroke-width="2.8" stroke-linecap="round"/>
<path d="M0,-2.3 L20,1.8" stroke="#2f4043" stroke-width="2.8" stroke-linecap="round"/>
<path d="M0,-2.3 L-0.8,14" stroke="#2f4043" stroke-width="2.8" stroke-linecap="round"/>
<path d="M0,-2.3 L-19,3.8" stroke="#cfd3d6" stroke-width="1.4" stroke-linecap="round"/>
<path d="M0,-2.3 L20,1.8" stroke="#cfd3d6" stroke-width="1.4" stroke-linecap="round"/>
<path d="M0,-2.3 L-0.8,14" stroke="#cfd3d6" stroke-width="1.4" stroke-linecap="round"/>
<ellipse cx="-19" cy="5.0" rx="1.6" ry="1.4" fill="#e4e6e7" stroke="#2f4043" stroke-width=".5"/>
<ellipse cx="20" cy="3.0" rx="1.6" ry="1.4" fill="#e4e6e7" stroke="#2f4043" stroke-width=".5"/>
<ellipse cx="-0.8" cy="15.2" rx="1.6" ry="1.4" fill="#e4e6e7" stroke="#2f4043" stroke-width=".5"/>
<path d="M0,-12 L0,1" stroke="#2f4043" stroke-width="3.5"/>
<path d="M0,-12 L0,1" stroke="#cfd3d6" stroke-width="1.9"/>
<path d="M-22.5,-25 L-22.3,-9 L-17,-6.5 L-15,-8 L-17.6,-10 L-16.5,-24Z" fill="#86491a" stroke="#2f4043" stroke-width=".75"/>
<path d="M-23,-10 L-15,-6 L-15,-8.5 L-19,-11Z" fill="#6a4a22" stroke="#2f4043" stroke-width=".5"/>
<path d="M-29.3,-31 C-30.4,-24 -30.4,-14 -29.8,-7 L-23.6,-6 C-22,-14 -21.6,-22 -22.2,-30Z" fill="#86491a" stroke="#2f4043" stroke-width=".75"/>
<path d="M-34,-4.3 Q-33.3,-7.2 -30,-7.8 L-23.6,-6.6 L-22,-1.8 L-23.6,-0.8 L-25.8,-2.8 Q-30,-1 -34,-4.3Z" fill="#6a4a22" stroke="#2f4043" stroke-width=".5"/>
<path d="M-15.3,-19.5 L-0.5,-12.8 L-0.5,-8 L-14.2,-14Z" fill="#6a5636" stroke="#2f4043" stroke-width=".5"/>
<path d="M-14.2,-14 L-0.5,-8 L-0.5,-6 L-13.6,-11.8Z" fill="#3a4749" stroke="#2f4043" stroke-width=".4"/>
<path d="M-10,-37 L-22,-37.5 Q-28.5,-37 -29,-31 L-28.5,-27 L-23,-24 L-14,-19 L-2,-14 L4,-24Z" fill="#86491a" stroke="#2f4043" stroke-width=".75"/>
<path d="M-25,-29.5 L-13,-24" stroke="#2f4043" stroke-width=".4" fill="none" opacity=".7"/>
<path d="M-9,-53 C-5,-57.5 4,-58.5 8.5,-56 C11.5,-52 11,-42 10,-34 L10,-20 L1,-22 L-6,-29.5 L-13,-31.5 C-16,-38 -14,-47 -9,-53Z" fill="#f1861f" stroke="#2f4043" stroke-width=".85"/>
<path d="M3.5,-54.5 C5.5,-49 5.5,-43 4.5,-37 M-3,-33 C-1,-31 2,-30.5 5,-31.5" fill="none" stroke="#2f4043" stroke-width=".45" opacity=".35"/>
<path d="M-9,-52.5 C-13,-50 -15,-45 -15.5,-41.5 L-17.5,-42 L-18,-37.8 L-12.5,-35.5 C-9.5,-36 -7,-40 -6.5,-45Z" fill="#f1861f" stroke="#2f4043" stroke-width=".75"/>
<path d="M-14.3,-47 C-15.2,-44.5 -15.5,-42.8 -15.5,-41.5 L-17.5,-42 L-18,-37.8 L-12.5,-35.5 C-10.3,-36 -8.6,-38 -7.6,-41 Z" fill="#ffffff" stroke="#2f4043" stroke-width=".5"/>
<path d="M-17.5,-42.3 Q-21,-42.3 -21.5,-39.8 Q-21,-37.3 -18,-37.6Z" fill="#f6cf98" stroke="#2f4043" stroke-width=".5"/>
<path d="M-4,-60 L-4.5,-55 L2,-55.5 L3,-60Z" fill="#f6cf98" stroke="#2f4043" stroke-width=".5"/>
<ellipse cx="-1.7" cy="-65.6" rx="6.9" ry="8.1" fill="#f6cf98" stroke="#2f4043" stroke-width=".85"/>
<path d="M-6.8,-71.3 C-3.8,-75.3 4.2,-74.8 5.2,-68 C5.9,-64 4.8,-59.8 2,-57.8 L-1,-59 C-1.3,-61 -1.8,-62 -2.8,-62.3 C-3.8,-64 -4,-66 -4.8,-67.5 C-5.6,-69 -7,-70 -6.8,-71.3Z" fill="#f2c630" stroke="#2f4043" stroke-width=".5"/>
<path d="M-2.6,-62.5 C-1.2,-63.5 -0.8,-65.5 -1.8,-66.5" fill="none" stroke="#2f4043" stroke-width=".4"/>
<path d="M0.3,-10.5 L18,-21.8 L18,-19 L2.5,-8.8 L0.3,-8.8Z" fill="#3a4749" stroke="#2f4043" stroke-width=".5"/>
<path d="M-1.5,-25.7 L17.9,-37.2 L17.9,-21.6 L0.2,-10.5Z" fill="#7d6946" stroke="#2f4043" stroke-width=".85"/>
<path d="M-1.9,-26 L0,-10.5" stroke="#2f4043" stroke-width="2.5" stroke-linecap="round"/>
<path d="M-1.9,-26 L0,-10.5" stroke="#cfd3d6" stroke-width="1.2" stroke-linecap="round"/>
<path d="M18.4,-37.3 L18.4,-18" stroke="#2f4043" stroke-width="2.3" stroke-linecap="round"/>
<path d="M18.7,-37 L18.7,-18.5" stroke="#8e979a" stroke-width=".6" stroke-linecap="round"/>
<path d="M-1.6,-18.5 L-15,-23.3 Q-16.9,-23.6 -16.4,-21.5 L-14.4,-14 L-1.5,-8" fill="none" stroke="#2f4043" stroke-width="2.4" stroke-linecap="round" stroke-linejoin="round"/>
<path d="M-1.6,-18.5 L-15,-23.3 Q-16.9,-23.6 -16.4,-21.5 L-14.4,-14 L-1.5,-8" fill="none" stroke="#cfd3d6" stroke-width="1.1" stroke-linecap="round" stroke-linejoin="round"/>
</g>
<g transform="translate(310.6,511.6)">
<path d="M-14.5,13.6 L1.5,4.2 Q3.2,3.2 5,4.2 L20.8,15 Q22.8,16.6 21.5,18.8 L5.6,29.6 Q3,31.2 0.8,29.7 L-14.8,18.4 Q-17.2,15.8 -14.5,13.6Z" fill="url(#sh)"/>
<path d="M0,-2.3 L-19,3.8" stroke="#2f4043" stroke-width="2.8" stroke-linecap="round"/>
<path d="M0,-2.3 L20,1.8" stroke="#2f4043" stroke-width="2.8" stroke-linecap="round"/>
<path d="M0,-2.3 L-0.8,14" stroke="#2f4043" stroke-width="2.8" stroke-linecap="round"/>
<path d="M0,-2.3 L-19,3.8" stroke="#cfd3d6" stroke-width="1.4" stroke-linecap="round"/>
<path d="M0,-2.3 L20,1.8" stroke="#cfd3d6" stroke-width="1.4" stroke-linecap="round"/>
<path d="M0,-2.3 L-0.8,14" stroke="#cfd3d6" stroke-width="1.4" stroke-linecap="round"/>
<ellipse cx="-19" cy="5.0" rx="1.6" ry="1.4" fill="#e4e6e7" stroke="#2f4043" stroke-width=".5"/>
<ellipse cx="20" cy="3.0" rx="1.6" ry="1.4" fill="#e4e6e7" stroke="#2f4043" stroke-width=".5"/>
<ellipse cx="-0.8" cy="15.2" rx="1.6" ry="1.4" fill="#e4e6e7" stroke="#2f4043" stroke-width=".5"/>
<path d="M0,-12 L0,1" stroke="#2f4043" stroke-width="3.5"/>
<path d="M0,-12 L0,1" stroke="#cfd3d6" stroke-width="1.9"/>
<path d="M-22.5,-25 L-22.3,-9 L-17,-6.5 L-15,-8 L-17.6,-10 L-16.5,-24Z" fill="#86491a" stroke="#2f4043" stroke-width=".75"/>
<path d="M-23,-10 L-15,-6 L-15,-8.5 L-19,-11Z" fill="#6a4a22" stroke="#2f4043" stroke-width=".5"/>
<path d="M-29.3,-31 C-30.4,-24 -30.4,-14 -29.8,-7 L-23.6,-6 C-22,-14 -21.6,-22 -22.2,-30Z" fill="#86491a" stroke="#2f4043" stroke-width=".75"/>
<path d="M-34,-4.3 Q-33.3,-7.2 -30,-7.8 L-23.6,-6.6 L-22,-1.8 L-23.6,-0.8 L-25.8,-2.8 Q-30,-1 -34,-4.3Z" fill="#6a4a22" stroke="#2f4043" stroke-width=".5"/>
<path d="M-15.3,-19.5 L-0.5,-12.8 L-0.5,-8 L-14.2,-14Z" fill="#6a5636" stroke="#2f4043" stroke-width=".5"/>
<path d="M-14.2,-14 L-0.5,-8 L-0.5,-6 L-13.6,-11.8Z" fill="#3a4749" stroke="#2f4043" stroke-width=".4"/>
<path d="M-10,-37 L-22,-37.5 Q-28.5,-37 -29,-31 L-28.5,-27 L-23,-24 L-14,-19 L-2,-14 L4,-24Z" fill="#86491a" stroke="#2f4043" stroke-width=".75"/>
<path d="M-25,-29.5 L-13,-24" stroke="#2f4043" stroke-width=".4" fill="none" opacity=".7"/>
<path d="M-9,-53 C-5,-57.5 4,-58.5 8.5,-56 C11.5,-52 11,-42 10,-34 L10,-20 L1,-22 L-6,-29.5 L-13,-31.5 C-16,-38 -14,-47 -9,-53Z" fill="#ffffff" stroke="#2f4043" stroke-width=".85"/>
<path d="M3.5,-54.5 C5.5,-49 5.5,-43 4.5,-37 M-3,-33 C-1,-31 2,-30.5 5,-31.5" fill="none" stroke="#2f4043" stroke-width=".45" opacity=".35"/>
<path d="M-9,-52.5 C-13,-50 -15,-45 -15.5,-41.5 L-17.5,-42 L-18,-37.8 L-12.5,-35.5 C-9.5,-36 -7,-40 -6.5,-45Z" fill="#ffffff" stroke="#2f4043" stroke-width=".75"/>
<path d="M-17.5,-42.3 Q-21,-42.3 -21.5,-39.8 Q-21,-37.3 -18,-37.6Z" fill="#f6cf98" stroke="#2f4043" stroke-width=".5"/>
<path d="M-4,-60 L-4.5,-55 L2,-55.5 L3,-60Z" fill="#f6cf98" stroke="#2f4043" stroke-width=".5"/>
<ellipse cx="-1.7" cy="-65.6" rx="6.9" ry="8.1" fill="#f6cf98" stroke="#2f4043" stroke-width=".85"/>
<path d="M-6.8,-71.3 C-3.8,-75.3 4.2,-74.8 5.2,-68 C5.9,-64 4.8,-59.8 2,-57.8 L-1,-59 C-1.3,-61 -1.8,-62 -2.8,-62.3 C-3.8,-64 -4,-66 -4.8,-67.5 C-5.6,-69 -7,-70 -6.8,-71.3Z" fill="#8b4a22" stroke="#2f4043" stroke-width=".5"/>
<path d="M-2.6,-62.5 C-1.2,-63.5 -0.8,-65.5 -1.8,-66.5" fill="none" stroke="#2f4043" stroke-width=".4"/>
<path d="M0.3,-10.5 L18,-21.8 L18,-19 L2.5,-8.8 L0.3,-8.8Z" fill="#3a4749" stroke="#2f4043" stroke-width=".5"/>
<path d="M-1.5,-25.7 L17.9,-37.2 L17.9,-21.6 L0.2,-10.5Z" fill="#7d6946" stroke="#2f4043" stroke-width=".85"/>
<path d="M-1.9,-26 L0,-10.5" stroke="#2f4043" stroke-width="2.5" stroke-linecap="round"/>
<path d="M-1.9,-26 L0,-10.5" stroke="#cfd3d6" stroke-width="1.2" stroke-linecap="round"/>
<path d="M18.4,-37.3 L18.4,-18" stroke="#2f4043" stroke-width="2.3" stroke-linecap="round"/>
<path d="M18.7,-37 L18.7,-18.5" stroke="#8e979a" stroke-width=".6" stroke-linecap="round"/>
<path d="M-1.6,-18.5 L-15,-23.3 Q-16.9,-23.6 -16.4,-21.5 L-14.4,-14 L-1.5,-8" fill="none" stroke="#2f4043" stroke-width="2.4" stroke-linecap="round" stroke-linejoin="round"/>
<path d="M-1.6,-18.5 L-15,-23.3 Q-16.9,-23.6 -16.4,-21.5 L-14.4,-14 L-1.5,-8" fill="none" stroke="#cfd3d6" stroke-width="1.1" stroke-linecap="round" stroke-linejoin="round"/>
</g>
<path d="M511.2,233.8 L514.3,236.7 L517.2,239.7 L520,243 L522.7,246.4 L525.2,250 L527.5,253.8 L529.8,257.7 L531.8,261.8 L533.8,266 L535.5,270.3 L537.2,274.7 L538.6,279.3 L539.9,283.9 L541,288.6 L542,293.4 L542.8,298.3 L543.4,303.2 L543.8,308.2 L544.1,313.2 L544.2,318.3 L544,323.3 L543.7,328.4 L543.2,333.5 L542.5,338.6 L541.7,343.7 L540.6,348.8 L539.3,353.8 L537.7,358.8 L536,363.7 L534.1,368.6 L531.9,373.4 L529.5,378.2 L526.9,382.8 L524,387.4 L521,391.8 L517.6,396.1 L514.1,400.3 L510.3,404.4 L506.2,408.3 L501.9,412.1 L502.3,411.6 L505.8,413.3 L502.4,416.2 L492.7,415.1 L498.5,402 L497.2,407.3 L497.6,406.8 L501.6,403.3 L505.4,399.6 L509,395.8 L512.4,391.9 L515.5,387.8 L518.4,383.7 L521.1,379.4 L523.5,375 L525.8,370.5 L527.9,366 L529.7,361.4 L531.3,356.7 L532.8,352 L534,347.2 L535.1,342.4 L535.9,337.6 L536.6,332.8 L537.1,327.9 L537.3,323.1 L537.5,318.2 L537.4,313.4 L537.2,308.6 L536.7,303.9 L536.2,299.2 L535.4,294.6 L534.5,290 L533.4,285.6 L532.2,281.2 L530.9,276.9 L529.3,272.7 L527.7,268.6 L525.9,264.7 L523.9,260.9 L521.8,257.2 L519.6,253.7 L517.3,250.4 L514.9,247.2 L512.3,244.2 L509.6,241.4 L506.8,238.8 A3.3,3.3 0 0 1 511.2,233.8Z" fill="#f4845f" stroke="#8a5f56" stroke-width=".7" stroke-linejoin="round"/>
<g transform="translate(549.7,452.9)">
<path d="M-14.5,13.6 L1.5,4.2 Q3.2,3.2 5,4.2 L20.8,15 Q22.8,16.6 21.5,18.8 L5.6,29.6 Q3,31.2 0.8,29.7 L-14.8,18.4 Q-17.2,15.8 -14.5,13.6Z" fill="url(#sh)"/>
<path d="M0,-2.3 L-19,3.8" stroke="#2f4043" stroke-width="2.8" stroke-linecap="round"/>
<path d="M0,-2.3 L20,1.8" stroke="#2f4043" stroke-width="2.8" stroke-linecap="round"/>
<path d="M0,-2.3 L-0.8,14" stroke="#2f4043" stroke-width="2.8" stroke-linecap="round"/>
<path d="M0,-2.3 L-19,3.8" stroke="#cfd3d6" stroke-width="1.4" stroke-linecap="round"/>
<path d="M0,-2.3 L20,1.8" stroke="#cfd3d6" stroke-width="1.4" stroke-linecap="round"/>
<path d="M0,-2.3 L-0.8,14" stroke="#cfd3d6" stroke-width="1.4" stroke-linecap="round"/>
<ellipse cx="-19" cy="5.0" rx="1.6" ry="1.4" fill="#e4e6e7" stroke="#2f4043" stroke-width=".5"/>
<ellipse cx="20" cy="3.0" rx="1.6" ry="1.4" fill="#e4e6e7" stroke="#2f4043" stroke-width=".5"/>
<ellipse cx="-0.8" cy="15.2" rx="1.6" ry="1.4" fill="#e4e6e7" stroke="#2f4043" stroke-width=".5"/>
<path d="M0,-12 L0,1" stroke="#2f4043" stroke-width="3.5"/>
<path d="M0,-12 L0,1" stroke="#cfd3d6" stroke-width="1.9"/>
<path d="M-22.5,-25 L-22.3,-9 L-17,-6.5 L-15,-8 L-17.6,-10 L-16.5,-24Z" fill="#f1861f" stroke="#2f4043" stroke-width=".75"/>
<path d="M-23,-10 L-15,-6 L-15,-8.5 L-19,-11Z" fill="#6a4a22" stroke="#2f4043" stroke-width=".5"/>
<path d="M-29.3,-31 C-30.4,-24 -30.4,-14 -29.8,-7 L-23.6,-6 C-22,-14 -21.6,-22 -22.2,-30Z" fill="#f1861f" stroke="#2f4043" stroke-width=".75"/>
<path d="M-34,-4.3 Q-33.3,-7.2 -30,-7.8 L-23.6,-6.6 L-22,-1.8 L-23.6,-0.8 L-25.8,-2.8 Q-30,-1 -34,-4.3Z" fill="#6a4a22" stroke="#2f4043" stroke-width=".5"/>
<path d="M-15.3,-19.5 L-0.5,-12.8 L-0.5,-8 L-14.2,-14Z" fill="#6a5636" stroke="#2f4043" stroke-width=".5"/>
<path d="M-14.2,-14 L-0.5,-8 L-0.5,-6 L-13.6,-11.8Z" fill="#3a4749" stroke="#2f4043" stroke-width=".4"/>
<path d="M-10,-37 L-22,-37.5 Q-28.5,-37 -29,-31 L-28.5,-27 L-23,-24 L-14,-19 L-2,-14 L4,-24Z" fill="#f1861f" stroke="#2f4043" stroke-width=".75"/>
<path d="M-25,-29.5 L-13,-24" stroke="#2f4043" stroke-width=".4" fill="none" opacity=".7"/>
<path d="M-9,-53 C-5,-57.5 4,-58.5 8.5,-56 C11.5,-52 11,-42 10,-34 L10,-20 L1,-22 L-6,-29.5 L-13,-31.5 C-16,-38 -14,-47 -9,-53Z" fill="#ffffff" stroke="#2f4043" stroke-width=".85"/>
<path d="M-8,-42.5 L-2,-45.5 L3.5,-46.5 L8.8,-44.5 L8.8,-34 L9,-20 L1,-22 L-6,-29.5 L-13,-31.5 L-13.6,-35 L-9.5,-38Z" fill="#f1861f" stroke="#2f4043" stroke-width=".5"/>
<path d="M-5.6,-54.3 L-3.4,-55.6 L4.6,-46.4 L1.6,-45.8Z M6,-57 L8,-56 L7,-45.2 L4.4,-46Z" fill="#f1861f" stroke="#2f4043" stroke-width=".45"/>
<path d="M4.4,-44.6 L6,-41.6 L3,-41.6Z" fill="#fff" stroke="#2f4043" stroke-width=".3"/>
<path d="M-9,-52.5 C-13,-50 -15,-45 -15.5,-41.5 L-17.5,-42 L-18,-37.8 L-12.5,-35.5 C-9.5,-36 -7,-40 -6.5,-45Z" fill="#ffffff" stroke="#2f4043" stroke-width=".75"/>
<path d="M-17.5,-42.3 Q-21,-42.3 -21.5,-39.8 Q-21,-37.3 -18,-37.6Z" fill="#f6cf98" stroke="#2f4043" stroke-width=".5"/>
<path d="M-4,-60 L-4.5,-55 L2,-55.5 L3,-60Z" fill="#f6cf98" stroke="#2f4043" stroke-width=".5"/>
<ellipse cx="-1.7" cy="-65.6" rx="6.9" ry="8.1" fill="#f6cf98" stroke="#2f4043" stroke-width=".85"/>
<path d="M-6.8,-71.3 C-3.8,-75.3 4.2,-74.8 5.2,-68 C5.9,-64 4.8,-59.8 2,-57.8 L-1,-59 C-1.3,-61 -1.8,-62 -2.8,-62.3 C-3.8,-64 -4,-66 -4.8,-67.5 C-5.6,-69 -7,-70 -6.8,-71.3Z" fill="#f2c630" stroke="#2f4043" stroke-width=".5"/>
<path d="M-2.6,-62.5 C-1.2,-63.5 -0.8,-65.5 -1.8,-66.5" fill="none" stroke="#2f4043" stroke-width=".4"/>
<path d="M0.3,-10.5 L18,-21.8 L18,-19 L2.5,-8.8 L0.3,-8.8Z" fill="#3a4749" stroke="#2f4043" stroke-width=".5"/>
<path d="M-1.5,-25.7 L17.9,-37.2 L17.9,-21.6 L0.2,-10.5Z" fill="#7d6946" stroke="#2f4043" stroke-width=".85"/>
<path d="M-1.9,-26 L0,-10.5" stroke="#2f4043" stroke-width="2.5" stroke-linecap="round"/>
<path d="M-1.9,-26 L0,-10.5" stroke="#cfd3d6" stroke-width="1.2" stroke-linecap="round"/>
<path d="M18.4,-37.3 L18.4,-18" stroke="#2f4043" stroke-width="2.3" stroke-linecap="round"/>
<path d="M18.7,-37 L18.7,-18.5" stroke="#8e979a" stroke-width=".6" stroke-linecap="round"/>
<path d="M-1.6,-18.5 L-15,-23.3 Q-16.9,-23.6 -16.4,-21.5 L-14.4,-14 L-1.5,-8" fill="none" stroke="#2f4043" stroke-width="2.4" stroke-linecap="round" stroke-linejoin="round"/>
<path d="M-1.6,-18.5 L-15,-23.3 Q-16.9,-23.6 -16.4,-21.5 L-14.4,-14 L-1.5,-8" fill="none" stroke="#cfd3d6" stroke-width="1.1" stroke-linecap="round" stroke-linejoin="round"/>
</g>
<g transform="translate(515.7,473)">
<path d="M-14.5,13.6 L1.5,4.2 Q3.2,3.2 5,4.2 L20.8,15 Q22.8,16.6 21.5,18.8 L5.6,29.6 Q3,31.2 0.8,29.7 L-14.8,18.4 Q-17.2,15.8 -14.5,13.6Z" fill="url(#sh)"/>
<path d="M0,-2.3 L-19,3.8" stroke="#2f4043" stroke-width="2.8" stroke-linecap="round"/>
<path d="M0,-2.3 L20,1.8" stroke="#2f4043" stroke-width="2.8" stroke-linecap="round"/>
<path d="M0,-2.3 L-0.8,14" stroke="#2f4043" stroke-width="2.8" stroke-linecap="round"/>
<path d="M0,-2.3 L-19,3.8" stroke="#cfd3d6" stroke-width="1.4" stroke-linecap="round"/>
<path d="M0,-2.3 L20,1.8" stroke="#cfd3d6" stroke-width="1.4" stroke-linecap="round"/>
<path d="M0,-2.3 L-0.8,14" stroke="#cfd3d6" stroke-width="1.4" stroke-linecap="round"/>
<ellipse cx="-19" cy="5.0" rx="1.6" ry="1.4" fill="#e4e6e7" stroke="#2f4043" stroke-width=".5"/>
<ellipse cx="20" cy="3.0" rx="1.6" ry="1.4" fill="#e4e6e7" stroke="#2f4043" stroke-width=".5"/>
<ellipse cx="-0.8" cy="15.2" rx="1.6" ry="1.4" fill="#e4e6e7" stroke="#2f4043" stroke-width=".5"/>
<path d="M0,-12 L0,1" stroke="#2f4043" stroke-width="3.5"/>
<path d="M0,-12 L0,1" stroke="#cfd3d6" stroke-width="1.9"/>
<path d="M-22.5,-25 L-22.3,-9 L-17,-6.5 L-15,-8 L-17.6,-10 L-16.5,-24Z" fill="#33494d" stroke="#2f4043" stroke-width=".75"/>
<path d="M-23,-10 L-15,-6 L-15,-8.5 L-19,-11Z" fill="#6a4a22" stroke="#2f4043" stroke-width=".5"/>
<path d="M-29.3,-31 C-30.4,-24 -30.4,-14 -29.8,-7 L-23.6,-6 C-22,-14 -21.6,-22 -22.2,-30Z" fill="#33494d" stroke="#2f4043" stroke-width=".75"/>
<path d="M-34,-4.3 Q-33.3,-7.2 -30,-7.8 L-23.6,-6.6 L-22,-1.8 L-23.6,-0.8 L-25.8,-2.8 Q-30,-1 -34,-4.3Z" fill="#6a4a22" stroke="#2f4043" stroke-width=".5"/>
<path d="M-15.3,-19.5 L-0.5,-12.8 L-0.5,-8 L-14.2,-14Z" fill="#6a5636" stroke="#2f4043" stroke-width=".5"/>
<path d="M-14.2,-14 L-0.5,-8 L-0.5,-6 L-13.6,-11.8Z" fill="#3a4749" stroke="#2f4043" stroke-width=".4"/>
<path d="M-10,-37 L-22,-37.5 Q-28.5,-37 -29,-31 L-28.5,-27 L-23,-24 L-14,-19 L-2,-14 L4,-24Z" fill="#33494d" stroke="#2f4043" stroke-width=".75"/>
<path d="M-25,-29.5 L-13,-24" stroke="#2f4043" stroke-width=".4" fill="none" opacity=".7"/>
<path d="M-9,-53 C-5,-57.5 4,-58.5 8.5,-56 C11.5,-52 11,-42 10,-34 L10,-20 L1,-22 L-6,-29.5 L-13,-31.5 C-16,-38 -14,-47 -9,-53Z" fill="#4f929c" stroke="#2f4043" stroke-width=".85"/>
<path d="M3.5,-54.5 C5.5,-49 5.5,-43 4.5,-37 M-3,-33 C-1,-31 2,-30.5 5,-31.5" fill="none" stroke="#2f4043" stroke-width=".45" opacity=".35"/>
<path d="M-9,-52.5 C-13,-50 -15,-45 -15.5,-41.5 L-17.5,-42 L-18,-37.8 L-12.5,-35.5 C-9.5,-36 -7,-40 -6.5,-45Z" fill="#4f929c" stroke="#2f4043" stroke-width=".75"/>
<path d="M-17.5,-42.3 Q-21,-42.3 -21.5,-39.8 Q-21,-37.3 -18,-37.6Z" fill="#f6cf98" stroke="#2f4043" stroke-width=".5"/>
<path d="M-4,-60 L-4.5,-55 L2,-55.5 L3,-60Z" fill="#f6cf98" stroke="#2f4043" stroke-width=".5"/>
<path d="M-5,-55.5 L-1,-54 L4.5,-57 L3,-58.5 L-1,-56.5 L-4.5,-57.5Z" fill="#fff" stroke="#2f4043" stroke-width=".4"/>
<path d="M-1.8,-72.8 C-5.5,-73 -8.2,-70 -8.7,-64.5 C-8.8,-62 -7.8,-59.8 -4.1,-59.1 L0.5,-59.8 L-1,-70Z" fill="#f6cf98" stroke="#2f4043" stroke-width=".7"/>
<path d="M-1.8,-72.8 C1,-74.8 5.5,-73 7.5,-67.6 C9,-64 8.6,-61 9,-58.3 C9.6,-56 9.8,-54.5 9.4,-52.9 C9,-51 8.3,-50.4 7.5,-50.2 C6,-50 4.6,-50.6 3.6,-51.4 C2.6,-52.6 2.4,-54 2.1,-55.2 C1.6,-57 1,-58.5 0.5,-59.8 C-1,-62 -2.3,-65 -2.5,-67.6 C-2.7,-69.5 -2.5,-71.5 -1.8,-72.8Z" fill="#dda45f" stroke="#2f4043" stroke-width=".7"/>
<path d="M0.3,-10.5 L18,-21.8 L18,-19 L2.5,-8.8 L0.3,-8.8Z" fill="#3a4749" stroke="#2f4043" stroke-width=".5"/>
<path d="M-1.5,-25.7 L17.9,-37.2 L17.9,-21.6 L0.2,-10.5Z" fill="#7d6946" stroke="#2f4043" stroke-width=".85"/>
<path d="M-1.9,-26 L0,-10.5" stroke="#2f4043" stroke-width="2.5" stroke-linecap="round"/>
<path d="M-1.9,-26 L0,-10.5" stroke="#cfd3d6" stroke-width="1.2" stroke-linecap="round"/>
<path d="M18.4,-37.3 L18.4,-18" stroke="#2f4043" stroke-width="2.3" stroke-linecap="round"/>
<path d="M18.7,-37 L18.7,-18.5" stroke="#8e979a" stroke-width=".6" stroke-linecap="round"/>
<path d="M-1.6,-18.5 L-15,-23.3 Q-16.9,-23.6 -16.4,-21.5 L-14.4,-14 L-1.5,-8" fill="none" stroke="#2f4043" stroke-width="2.4" stroke-linecap="round" stroke-linejoin="round"/>
<path d="M-1.6,-18.5 L-15,-23.3 Q-16.9,-23.6 -16.4,-21.5 L-14.4,-14 L-1.5,-8" fill="none" stroke="#cfd3d6" stroke-width="1.1" stroke-linecap="round" stroke-linejoin="round"/>
</g>
<g transform="translate(483.3,489.9)">
<path d="M-14.5,13.6 L1.5,4.2 Q3.2,3.2 5,4.2 L20.8,15 Q22.8,16.6 21.5,18.8 L5.6,29.6 Q3,31.2 0.8,29.7 L-14.8,18.4 Q-17.2,15.8 -14.5,13.6Z" fill="url(#sh)"/>
<path d="M0,-2.3 L-19,3.8" stroke="#2f4043" stroke-width="2.8" stroke-linecap="round"/>
<path d="M0,-2.3 L20,1.8" stroke="#2f4043" stroke-width="2.8" stroke-linecap="round"/>
<path d="M0,-2.3 L-0.8,14" stroke="#2f4043" stroke-width="2.8" stroke-linecap="round"/>
<path d="M0,-2.3 L-19,3.8" stroke="#cfd3d6" stroke-width="1.4" stroke-linecap="round"/>
<path d="M0,-2.3 L20,1.8" stroke="#cfd3d6" stroke-width="1.4" stroke-linecap="round"/>
<path d="M0,-2.3 L-0.8,14" stroke="#cfd3d6" stroke-width="1.4" stroke-linecap="round"/>
<ellipse cx="-19" cy="5.0" rx="1.6" ry="1.4" fill="#e4e6e7" stroke="#2f4043" stroke-width=".5"/>
<ellipse cx="20" cy="3.0" rx="1.6" ry="1.4" fill="#e4e6e7" stroke="#2f4043" stroke-width=".5"/>
<ellipse cx="-0.8" cy="15.2" rx="1.6" ry="1.4" fill="#e4e6e7" stroke="#2f4043" stroke-width=".5"/>
<path d="M0,-12 L0,1" stroke="#2f4043" stroke-width="3.5"/>
<path d="M0,-12 L0,1" stroke="#cfd3d6" stroke-width="1.9"/>
<path d="M-22.5,-25 L-22.3,-9 L-17,-6.5 L-15,-8 L-17.6,-10 L-16.5,-24Z" fill="#44858f" stroke="#2f4043" stroke-width=".75"/>
<path d="M-23,-10 L-15,-6 L-15,-8.5 L-19,-11Z" fill="#6a4a22" stroke="#2f4043" stroke-width=".5"/>
<path d="M-29.3,-31 C-30.4,-24 -30.4,-14 -29.8,-7 L-23.6,-6 C-22,-14 -21.6,-22 -22.2,-30Z" fill="#44858f" stroke="#2f4043" stroke-width=".75"/>
<path d="M-34,-4.3 Q-33.3,-7.2 -30,-7.8 L-23.6,-6.6 L-22,-1.8 L-23.6,-0.8 L-25.8,-2.8 Q-30,-1 -34,-4.3Z" fill="#6a4a22" stroke="#2f4043" stroke-width=".5"/>
<path d="M-15.3,-19.5 L-0.5,-12.8 L-0.5,-8 L-14.2,-14Z" fill="#6a5636" stroke="#2f4043" stroke-width=".5"/>
<path d="M-14.2,-14 L-0.5,-8 L-0.5,-6 L-13.6,-11.8Z" fill="#3a4749" stroke="#2f4043" stroke-width=".4"/>
<path d="M-10,-37 L-22,-37.5 Q-28.5,-37 -29,-31 L-28.5,-27 L-23,-24 L-14,-19 L-2,-14 L4,-24Z" fill="#44858f" stroke="#2f4043" stroke-width=".75"/>
<path d="M-25,-29.5 L-13,-24" stroke="#2f4043" stroke-width=".4" fill="none" opacity=".7"/>
<path d="M-9,-53 C-5,-57.5 4,-58.5 8.5,-56 C11.5,-52 11,-42 10,-34 L10,-20 L1,-22 L-6,-29.5 L-13,-31.5 C-16,-38 -14,-47 -9,-53Z" fill="#ee3b24" stroke="#2f4043" stroke-width=".85"/>
<path d="M10,-40 L10,-20 L-9,-22 L-13,-30 C-14,-33 -14.6,-35 -14.6,-37 L-4,-33Z" fill="#33494d" stroke="#2f4043" stroke-width=".5"/>
<path d="M-9,-53 C-5,-57.5 4,-58.5 8.5,-56 C10.3,-53.5 10.9,-50 11,-47 L-6,-41 L-13.5,-44 C-12.8,-47.5 -11,-50.8 -9,-53Z" fill="#85878a" stroke="#2f4043" stroke-width=".5"/>
<path d="M3.5,-54.5 C5.5,-49 5.5,-43 4.5,-37 M-3,-33 C-1,-31 2,-30.5 5,-31.5" fill="none" stroke="#2f4043" stroke-width=".45" opacity=".35"/>
<path d="M-9,-52.5 C-13,-50 -15,-45 -15.5,-41.5 L-17.5,-42 L-18,-37.8 L-12.5,-35.5 C-9.5,-36 -7,-40 -6.5,-45Z" fill="#ee3b24" stroke="#2f4043" stroke-width=".75"/>
<path d="M-17.5,-42.3 Q-21,-42.3 -21.5,-39.8 Q-21,-37.3 -18,-37.6Z" fill="#f6cf98" stroke="#2f4043" stroke-width=".5"/>
<path d="M-4,-60 L-4.5,-55 L2,-55.5 L3,-60Z" fill="#f6cf98" stroke="#2f4043" stroke-width=".5"/>
<path d="M-5,-55.5 L-1,-54 L4.5,-57 L3,-58.5 L-1,-56.5 L-4.5,-57.5Z" fill="#fff" stroke="#2f4043" stroke-width=".4"/>
<ellipse cx="-1.7" cy="-65.6" rx="6.9" ry="8.1" fill="#f6cf98" stroke="#2f4043" stroke-width=".85"/>
<path d="M-3.2,-69.5 C0,-72 4,-70.5 4.9,-67 C5.6,-64 4.8,-60.5 2.6,-58.7 C1.3,-60.5 0,-61.5 -1.2,-62.3 C-2.7,-64 -4,-67 -3.2,-69.5Z" fill="#cfcfcf" stroke="#2f4043" stroke-width=".4"/>
<path d="M-5,-72 C-1,-75 4,-73 4.5,-67" fill="none" stroke="#2f4043" stroke-width="1.2"/>
<ellipse cx="-1.8" cy="-64.5" rx="2.3" ry="3" fill="#e9e9e9" stroke="#2f4043" stroke-width=".85"/>
<path d="M0.3,-10.5 L18,-21.8 L18,-19 L2.5,-8.8 L0.3,-8.8Z" fill="#3a4749" stroke="#2f4043" stroke-width=".5"/>
<path d="M-1.5,-25.7 L17.9,-37.2 L17.9,-21.6 L0.2,-10.5Z" fill="#7d6946" stroke="#2f4043" stroke-width=".85"/>
<path d="M-1.9,-26 L0,-10.5" stroke="#2f4043" stroke-width="2.5" stroke-linecap="round"/>
<path d="M-1.9,-26 L0,-10.5" stroke="#cfd3d6" stroke-width="1.2" stroke-linecap="round"/>
<path d="M18.4,-37.3 L18.4,-18" stroke="#2f4043" stroke-width="2.3" stroke-linecap="round"/>
<path d="M18.7,-37 L18.7,-18.5" stroke="#8e979a" stroke-width=".6" stroke-linecap="round"/>
<path d="M-1.6,-18.5 L-15,-23.3 Q-16.9,-23.6 -16.4,-21.5 L-14.4,-14 L-1.5,-8" fill="none" stroke="#2f4043" stroke-width="2.4" stroke-linecap="round" stroke-linejoin="round"/>
<path d="M-1.6,-18.5 L-15,-23.3 Q-16.9,-23.6 -16.4,-21.5 L-14.4,-14 L-1.5,-8" fill="none" stroke="#cfd3d6" stroke-width="1.1" stroke-linecap="round" stroke-linejoin="round"/>
</g>
<g transform="translate(450.9,510)">
<path d="M-14.5,13.6 L1.5,4.2 Q3.2,3.2 5,4.2 L20.8,15 Q22.8,16.6 21.5,18.8 L5.6,29.6 Q3,31.2 0.8,29.7 L-14.8,18.4 Q-17.2,15.8 -14.5,13.6Z" fill="url(#sh)"/>
<path d="M0,-2.3 L-19,3.8" stroke="#2f4043" stroke-width="2.8" stroke-linecap="round"/>
<path d="M0,-2.3 L20,1.8" stroke="#2f4043" stroke-width="2.8" stroke-linecap="round"/>
<path d="M0,-2.3 L-0.8,14" stroke="#2f4043" stroke-width="2.8" stroke-linecap="round"/>
<path d="M0,-2.3 L-19,3.8" stroke="#cfd3d6" stroke-width="1.4" stroke-linecap="round"/>
<path d="M0,-2.3 L20,1.8" stroke="#cfd3d6" stroke-width="1.4" stroke-linecap="round"/>
<path d="M0,-2.3 L-0.8,14" stroke="#cfd3d6" stroke-width="1.4" stroke-linecap="round"/>
<ellipse cx="-19" cy="5.0" rx="1.6" ry="1.4" fill="#e4e6e7" stroke="#2f4043" stroke-width=".5"/>
<ellipse cx="20" cy="3.0" rx="1.6" ry="1.4" fill="#e4e6e7" stroke="#2f4043" stroke-width=".5"/>
<ellipse cx="-0.8" cy="15.2" rx="1.6" ry="1.4" fill="#e4e6e7" stroke="#2f4043" stroke-width=".5"/>
<path d="M0,-12 L0,1" stroke="#2f4043" stroke-width="3.5"/>
<path d="M0,-12 L0,1" stroke="#cfd3d6" stroke-width="1.9"/>
<path d="M-22.5,-25 L-22.3,-9 L-17,-6.5 L-15,-8 L-17.6,-10 L-16.5,-24Z" fill="#33494d" stroke="#2f4043" stroke-width=".75"/>
<path d="M-23,-10 L-15,-6 L-15,-8.5 L-19,-11Z" fill="#6a4a22" stroke="#2f4043" stroke-width=".5"/>
<path d="M-29.3,-31 C-30.4,-24 -30.4,-14 -29.8,-7 L-23.6,-6 C-22,-14 -21.6,-22 -22.2,-30Z" fill="#33494d" stroke="#2f4043" stroke-width=".75"/>
<path d="M-34,-4.3 Q-33.3,-7.2 -30,-7.8 L-23.6,-6.6 L-22,-1.8 L-23.6,-0.8 L-25.8,-2.8 Q-30,-1 -34,-4.3Z" fill="#6a4a22" stroke="#2f4043" stroke-width=".5"/>
<path d="M-15.3,-19.5 L-0.5,-12.8 L-0.5,-8 L-14.2,-14Z" fill="#6a5636" stroke="#2f4043" stroke-width=".5"/>
<path d="M-14.2,-14 L-0.5,-8 L-0.5,-6 L-13.6,-11.8Z" fill="#3a4749" stroke="#2f4043" stroke-width=".4"/>
<path d="M-10,-37 L-22,-37.5 Q-28.5,-37 -29,-31 L-28.5,-27 L-23,-24 L-14,-19 L-2,-14 L4,-24Z" fill="#33494d" stroke="#2f4043" stroke-width=".75"/>
<path d="M-25,-29.5 L-13,-24" stroke="#2f4043" stroke-width=".4" fill="none" opacity=".7"/>
<path d="M-9,-53 C-5,-57.5 4,-58.5 8.5,-56 C11.5,-52 11,-42 10,-34 L10,-20 L1,-22 L-6,-29.5 L-13,-31.5 C-16,-38 -14,-47 -9,-53Z" fill="#33494d" stroke="#2f4043" stroke-width=".85"/>
<path d="M3.5,-54.5 C5.5,-49 5.5,-43 4.5,-37 M-3,-33 C-1,-31 2,-30.5 5,-31.5" fill="none" stroke="#9fb0b3" stroke-width=".45" opacity=".55"/>
<path d="M-9,-52.5 C-13,-50 -15,-45 -15.5,-41.5 L-17.5,-42 L-18,-37.8 L-12.5,-35.5 C-9.5,-36 -7,-40 -6.5,-45Z" fill="#33494d" stroke="#2f4043" stroke-width=".75"/>
<path d="M-17.5,-42.3 Q-21,-42.3 -21.5,-39.8 Q-21,-37.3 -18,-37.6Z" fill="#f6cf98" stroke="#2f4043" stroke-width=".5"/>
<path d="M-4,-60 L-4.5,-55 L2,-55.5 L3,-60Z" fill="#f6cf98" stroke="#2f4043" stroke-width=".5"/>
<path d="M-5,-55.5 L-1,-54 L4.5,-57 L3,-58.5 L-1,-56.5 L-4.5,-57.5Z" fill="#fff" stroke="#2f4043" stroke-width=".4"/>
<ellipse cx="-1.7" cy="-65.6" rx="6.9" ry="8.1" fill="#f6cf98" stroke="#2f4043" stroke-width=".85"/>
<path d="M-6.8,-71.3 C-3.8,-75.3 4.2,-74.8 5.2,-68 C5.9,-64 4.8,-59.8 2,-57.8 L-1,-59 C-1.3,-61 -1.8,-62 -2.8,-62.3 C-3.8,-64 -4,-66 -4.8,-67.5 C-5.6,-69 -7,-70 -6.8,-71.3Z" fill="#f2c630" stroke="#2f4043" stroke-width=".5"/>
<path d="M-2.6,-62.5 C-1.2,-63.5 -0.8,-65.5 -1.8,-66.5" fill="none" stroke="#2f4043" stroke-width=".4"/>
<path d="M0.3,-10.5 L18,-21.8 L18,-19 L2.5,-8.8 L0.3,-8.8Z" fill="#3a4749" stroke="#2f4043" stroke-width=".5"/>
<path d="M-1.5,-25.7 L17.9,-37.2 L17.9,-21.6 L0.2,-10.5Z" fill="#7d6946" stroke="#2f4043" stroke-width=".85"/>
<path d="M-1.9,-26 L0,-10.5" stroke="#2f4043" stroke-width="2.5" stroke-linecap="round"/>
<path d="M-1.9,-26 L0,-10.5" stroke="#cfd3d6" stroke-width="1.2" stroke-linecap="round"/>
<path d="M18.4,-37.3 L18.4,-18" stroke="#2f4043" stroke-width="2.3" stroke-linecap="round"/>
<path d="M18.7,-37 L18.7,-18.5" stroke="#8e979a" stroke-width=".6" stroke-linecap="round"/>
<path d="M-1.6,-18.5 L-15,-23.3 Q-16.9,-23.6 -16.4,-21.5 L-14.4,-14 L-1.5,-8" fill="none" stroke="#2f4043" stroke-width="2.4" stroke-linecap="round" stroke-linejoin="round"/>
<path d="M-1.6,-18.5 L-15,-23.3 Q-16.9,-23.6 -16.4,-21.5 L-14.4,-14 L-1.5,-8" fill="none" stroke="#cfd3d6" stroke-width="1.1" stroke-linecap="round" stroke-linejoin="round"/>
</g>
<g transform="translate(416.9,536.2)">
<path d="M-14.5,13.6 L1.5,4.2 Q3.2,3.2 5,4.2 L20.8,15 Q22.8,16.6 21.5,18.8 L5.6,29.6 Q3,31.2 0.8,29.7 L-14.8,18.4 Q-17.2,15.8 -14.5,13.6Z" fill="url(#sh)"/>
<path d="M0,-2.3 L-19,3.8" stroke="#2f4043" stroke-width="2.8" stroke-linecap="round"/>
<path d="M0,-2.3 L20,1.8" stroke="#2f4043" stroke-width="2.8" stroke-linecap="round"/>
<path d="M0,-2.3 L-0.8,14" stroke="#2f4043" stroke-width="2.8" stroke-linecap="round"/>
<path d="M0,-2.3 L-19,3.8" stroke="#cfd3d6" stroke-width="1.4" stroke-linecap="round"/>
<path d="M0,-2.3 L20,1.8" stroke="#cfd3d6" stroke-width="1.4" stroke-linecap="round"/>
<path d="M0,-2.3 L-0.8,14" stroke="#cfd3d6" stroke-width="1.4" stroke-linecap="round"/>
<ellipse cx="-19" cy="5.0" rx="1.6" ry="1.4" fill="#e4e6e7" stroke="#2f4043" stroke-width=".5"/>
<ellipse cx="20" cy="3.0" rx="1.6" ry="1.4" fill="#e4e6e7" stroke="#2f4043" stroke-width=".5"/>
<ellipse cx="-0.8" cy="15.2" rx="1.6" ry="1.4" fill="#e4e6e7" stroke="#2f4043" stroke-width=".5"/>
<path d="M0,-12 L0,1" stroke="#2f4043" stroke-width="3.5"/>
<path d="M0,-12 L0,1" stroke="#cfd3d6" stroke-width="1.9"/>
<path d="M-22.5,-25 L-22.3,-9 L-17,-6.5 L-15,-8 L-17.6,-10 L-16.5,-24Z" fill="#44858f" stroke="#2f4043" stroke-width=".75"/>
<path d="M-23,-10 L-15,-6 L-15,-8.5 L-19,-11Z" fill="#6a4a22" stroke="#2f4043" stroke-width=".5"/>
<path d="M-29.3,-31 C-30.4,-24 -30.4,-14 -29.8,-7 L-23.6,-6 C-22,-14 -21.6,-22 -22.2,-30Z" fill="#44858f" stroke="#2f4043" stroke-width=".75"/>
<path d="M-34,-4.3 Q-33.3,-7.2 -30,-7.8 L-23.6,-6.6 L-22,-1.8 L-23.6,-0.8 L-25.8,-2.8 Q-30,-1 -34,-4.3Z" fill="#6a4a22" stroke="#2f4043" stroke-width=".5"/>
<path d="M-15.3,-19.5 L-0.5,-12.8 L-0.5,-8 L-14.2,-14Z" fill="#6a5636" stroke="#2f4043" stroke-width=".5"/>
<path d="M-14.2,-14 L-0.5,-8 L-0.5,-6 L-13.6,-11.8Z" fill="#3a4749" stroke="#2f4043" stroke-width=".4"/>
<path d="M-10,-37 L-22,-37.5 Q-28.5,-37 -29,-31 L-28.5,-27 L-23,-24 L-14,-19 L-2,-14 L4,-24Z" fill="#44858f" stroke="#2f4043" stroke-width=".75"/>
<path d="M-25,-29.5 L-13,-24" stroke="#2f4043" stroke-width=".4" fill="none" opacity=".7"/>
<path d="M-9,-53 C-5,-57.5 4,-58.5 8.5,-56 C11.5,-52 11,-42 10,-34 L10,-20 L1,-22 L-6,-29.5 L-13,-31.5 C-16,-38 -14,-47 -9,-53Z" fill="#4f929c" stroke="#2f4043" stroke-width=".85"/>
<path d="M3.5,-54.5 C5.5,-49 5.5,-43 4.5,-37 M-3,-33 C-1,-31 2,-30.5 5,-31.5" fill="none" stroke="#2f4043" stroke-width=".45" opacity=".35"/>
<path d="M-9,-52.5 C-13,-50 -15,-45 -15.5,-41.5 L-17.5,-42 L-18,-37.8 L-12.5,-35.5 C-9.5,-36 -7,-40 -6.5,-45Z" fill="#4f929c" stroke="#2f4043" stroke-width=".75"/>
<path d="M-17.5,-42.3 Q-21,-42.3 -21.5,-39.8 Q-21,-37.3 -18,-37.6Z" fill="#f6cf98" stroke="#2f4043" stroke-width=".5"/>
<path d="M-4,-60 L-4.5,-55 L2,-55.5 L3,-60Z" fill="#f6cf98" stroke="#2f4043" stroke-width=".5"/>
<path d="M-5,-55.5 L-1,-54 L4.5,-57 L3,-58.5 L-1,-56.5 L-4.5,-57.5Z" fill="#fff" stroke="#2f4043" stroke-width=".4"/>
<ellipse cx="-1.7" cy="-65.6" rx="6.9" ry="8.1" fill="#f6cf98" stroke="#2f4043" stroke-width=".85"/>
<path d="M-6.8,-71.3 C-3.8,-75.3 4.2,-74.8 5.2,-68 C5.9,-64 4.8,-59.8 2,-57.8 L-1,-59 C-1.3,-61 -1.8,-62 -2.8,-62.3 C-3.8,-64 -4,-66 -4.8,-67.5 C-5.6,-69 -7,-70 -6.8,-71.3Z" fill="#2c3a3e" stroke="#2f4043" stroke-width=".5"/>
<path d="M-2.6,-62.5 C-1.2,-63.5 -0.8,-65.5 -1.8,-66.5" fill="none" stroke="#2f4043" stroke-width=".4"/>
<path d="M0.3,-10.5 L18,-21.8 L18,-19 L2.5,-8.8 L0.3,-8.8Z" fill="#3a4749" stroke="#2f4043" stroke-width=".5"/>
<path d="M-1.5,-25.7 L17.9,-37.2 L17.9,-21.6 L0.2,-10.5Z" fill="#7d6946" stroke="#2f4043" stroke-width=".85"/>
<path d="M-1.9,-26 L0,-10.5" stroke="#2f4043" stroke-width="2.5" stroke-linecap="round"/>
<path d="M-1.9,-26 L0,-10.5" stroke="#cfd3d6" stroke-width="1.2" stroke-linecap="round"/>
<path d="M18.4,-37.3 L18.4,-18" stroke="#2f4043" stroke-width="2.3" stroke-linecap="round"/>
<path d="M18.7,-37 L18.7,-18.5" stroke="#8e979a" stroke-width=".6" stroke-linecap="round"/>
<path d="M-1.6,-18.5 L-15,-23.3 Q-16.9,-23.6 -16.4,-21.5 L-14.4,-14 L-1.5,-8" fill="none" stroke="#2f4043" stroke-width="2.4" stroke-linecap="round" stroke-linejoin="round"/>
<path d="M-1.6,-18.5 L-15,-23.3 Q-16.9,-23.6 -16.4,-21.5 L-14.4,-14 L-1.5,-8" fill="none" stroke="#cfd3d6" stroke-width="1.1" stroke-linecap="round" stroke-linejoin="round"/>
</g>
<g transform="translate(383.8,555.2)">
<path d="M-14.5,13.6 L1.5,4.2 Q3.2,3.2 5,4.2 L20.8,15 Q22.8,16.6 21.5,18.8 L5.6,29.6 Q3,31.2 0.8,29.7 L-14.8,18.4 Q-17.2,15.8 -14.5,13.6Z" fill="url(#sh)"/>
<path d="M0,-2.3 L-19,3.8" stroke="#2f4043" stroke-width="2.8" stroke-linecap="round"/>
<path d="M0,-2.3 L20,1.8" stroke="#2f4043" stroke-width="2.8" stroke-linecap="round"/>
<path d="M0,-2.3 L-0.8,14" stroke="#2f4043" stroke-width="2.8" stroke-linecap="round"/>
<path d="M0,-2.3 L-19,3.8" stroke="#cfd3d6" stroke-width="1.4" stroke-linecap="round"/>
<path d="M0,-2.3 L20,1.8" stroke="#cfd3d6" stroke-width="1.4" stroke-linecap="round"/>
<path d="M0,-2.3 L-0.8,14" stroke="#cfd3d6" stroke-width="1.4" stroke-linecap="round"/>
<ellipse cx="-19" cy="5.0" rx="1.6" ry="1.4" fill="#e4e6e7" stroke="#2f4043" stroke-width=".5"/>
<ellipse cx="20" cy="3.0" rx="1.6" ry="1.4" fill="#e4e6e7" stroke="#2f4043" stroke-width=".5"/>
<ellipse cx="-0.8" cy="15.2" rx="1.6" ry="1.4" fill="#e4e6e7" stroke="#2f4043" stroke-width=".5"/>
<path d="M0,-12 L0,1" stroke="#2f4043" stroke-width="3.5"/>
<path d="M0,-12 L0,1" stroke="#cfd3d6" stroke-width="1.9"/>
<path d="M-22.5,-25 L-22.3,-9 L-17,-6.5 L-15,-8 L-17.6,-10 L-16.5,-24Z" fill="#f6cf98" stroke="#2f4043" stroke-width=".75"/>
<path d="M-23,-10 L-15,-6 L-15,-8.5 L-19,-11Z" fill="#7a3d14" stroke="#2f4043" stroke-width=".5"/>
<path d="M-29.3,-31 C-30.4,-24 -30.4,-14 -29.8,-7 L-23.6,-6 C-22,-14 -21.6,-22 -22.2,-30Z" fill="#f6cf98" stroke="#2f4043" stroke-width=".75"/>
<path d="M-34,-4.3 Q-33.3,-7.2 -30,-7.8 L-23.6,-6.6 L-22,-1.8 L-23.6,-0.8 L-25.8,-2.8 Q-30,-1 -34,-4.3Z" fill="#7a3d14" stroke="#2f4043" stroke-width=".5"/>
<path d="M-15.3,-19.5 L-0.5,-12.8 L-0.5,-8 L-14.2,-14Z" fill="#6a5636" stroke="#2f4043" stroke-width=".5"/>
<path d="M-14.2,-14 L-0.5,-8 L-0.5,-6 L-13.6,-11.8Z" fill="#3a4749" stroke="#2f4043" stroke-width=".4"/>
<path d="M-10,-37 L-22,-37.5 Q-28.5,-37 -29,-31 L-28.5,-27 L-23,-24 L-14,-19 L-2,-14 L4,-24Z" fill="#d9a45e" stroke="#2f4043" stroke-width=".75"/>
<path d="M-25,-29.5 L-13,-24" stroke="#2f4043" stroke-width=".4" fill="none" opacity=".7"/>
<path d="M-9,-53 C-5,-57.5 4,-58.5 8.5,-56 C11.5,-52 11,-42 10,-34 L10,-20 L1,-22 L-6,-29.5 L-13,-31.5 C-16,-38 -14,-47 -9,-53Z" fill="#7a3d14" stroke="#2f4043" stroke-width=".85"/>
<path d="M3.5,-54.5 C5.5,-49 5.5,-43 4.5,-37 M-3,-33 C-1,-31 2,-30.5 5,-31.5" fill="none" stroke="#2f4043" stroke-width=".45" opacity=".35"/>
<path d="M-9,-52.5 C-13,-50 -15,-45 -15.5,-41.5 L-17.5,-42 L-18,-37.8 L-12.5,-35.5 C-9.5,-36 -7,-40 -6.5,-45Z" fill="#7a3d14" stroke="#2f4043" stroke-width=".75"/>
<path d="M-17.5,-42.3 Q-21,-42.3 -21.5,-39.8 Q-21,-37.3 -18,-37.6Z" fill="#f6cf98" stroke="#2f4043" stroke-width=".5"/>
<path d="M-4,-60 L-4.5,-55 L2,-55.5 L3,-60Z" fill="#f6cf98" stroke="#2f4043" stroke-width=".5"/>
<path d="M-5,-55.5 L-1,-54 L4.5,-57 L3,-58.5 L-1,-56.5 L-4.5,-57.5Z" fill="#fff" stroke="#2f4043" stroke-width=".4"/>
<path d="M-1,-74 C5.5,-74.5 7.8,-69 6.8,-63 C6.8,-58 8.2,-54 6.8,-48.5 L4.3,-51 L2.8,-47 L0.3,-51 L-2.2,-53.5 C-2.7,-58 -3.2,-62 -5,-66 C-6.5,-70 -4.5,-73.5 -1,-74Z" fill="#f2c630" stroke="#2f4043" stroke-width=".85"/>
<path d="M-3,-73 C-7.8,-72.5 -9.4,-67 -8.7,-63 C-8.3,-59.8 -6.5,-58 -3.2,-58 C-2.2,-60 -2.2,-64 -3.6,-67 C-4.3,-69 -4,-71.5 -3,-73Z" fill="#f6cf98" stroke="#2f4043" stroke-width=".75"/>
<path d="M0.3,-10.5 L18,-21.8 L18,-19 L2.5,-8.8 L0.3,-8.8Z" fill="#3a4749" stroke="#2f4043" stroke-width=".5"/>
<path d="M-1.5,-25.7 L17.9,-37.2 L17.9,-21.6 L0.2,-10.5Z" fill="#7d6946" stroke="#2f4043" stroke-width=".85"/>
<path d="M-1.9,-26 L0,-10.5" stroke="#2f4043" stroke-width="2.5" stroke-linecap="round"/>
<path d="M-1.9,-26 L0,-10.5" stroke="#cfd3d6" stroke-width="1.2" stroke-linecap="round"/>
<path d="M18.4,-37.3 L18.4,-18" stroke="#2f4043" stroke-width="2.3" stroke-linecap="round"/>
<path d="M18.7,-37 L18.7,-18.5" stroke="#8e979a" stroke-width=".6" stroke-linecap="round"/>
<path d="M-1.6,-18.5 L-15,-23.3 Q-16.9,-23.6 -16.4,-21.5 L-14.4,-14 L-1.5,-8" fill="none" stroke="#2f4043" stroke-width="2.4" stroke-linecap="round" stroke-linejoin="round"/>
<path d="M-1.6,-18.5 L-15,-23.3 Q-16.9,-23.6 -16.4,-21.5 L-14.4,-14 L-1.5,-8" fill="none" stroke="#cfd3d6" stroke-width="1.1" stroke-linecap="round" stroke-linejoin="round"/>
</g>
<path d="M315.9,256.3 L319.1,250.5 L322.4,245 L325.8,239.9 L329.3,235.1 L332.9,230.7 L336.5,226.6 L340.3,222.8 L344,219.3 L347.9,216.1 L351.7,213.2 L355.7,210.5 L359.6,208.1 L363.5,206 L367.5,204.1 L371.5,202.4 L375.4,200.9 L379.3,199.6 L383.2,198.5 L387.1,197.6 L390.9,196.9 L394.6,196.3 L398.3,195.8 L401.9,195.5 L405.5,195.2 L408.9,195.1 L412.3,195.1 L415.5,195.1 L418.6,195.2 L421.6,195.4 L424.5,195.6 L427.3,195.9 L429.9,196.1 L432.3,196.4 L434.6,196.6 L436.6,196.8 L438.5,197 L440.2,197.2 L441.7,197.3 L442.9,197.3 L443.8,197.3 L447.8,198 L445.3,193.3 L451.2,195.2 L455.7,203 L446.5,208.1 L444.9,204.3 L444.2,203.9 L442.8,203.9 L441.3,203.8 L439.6,203.7 L437.8,203.5 L435.9,203.2 L433.8,203 L431.6,202.7 L429.2,202.4 L426.6,202.1 L424,201.8 L421.2,201.6 L418.3,201.4 L415.3,201.3 L412.2,201.2 L409,201.2 L405.7,201.3 L402.4,201.4 L398.9,201.7 L395.4,202.1 L391.9,202.7 L388.3,203.3 L384.6,204.2 L381,205.2 L377.3,206.3 L373.6,207.7 L369.8,209.3 L366.1,211 L362.4,213 L358.7,215.2 L355,217.7 L351.3,220.4 L347.6,223.4 L344,226.7 L340.5,230.3 L337,234.2 L333.5,238.4 L330.1,242.9 L326.8,247.8 L323.6,253.1 L320.5,258.7 A2.6,2.6 0 0 1 315.9,256.3Z" fill="#9dcc6c" stroke="#70806a" stroke-width=".7" stroke-linejoin="round"/>
</svg>
</body></html>
